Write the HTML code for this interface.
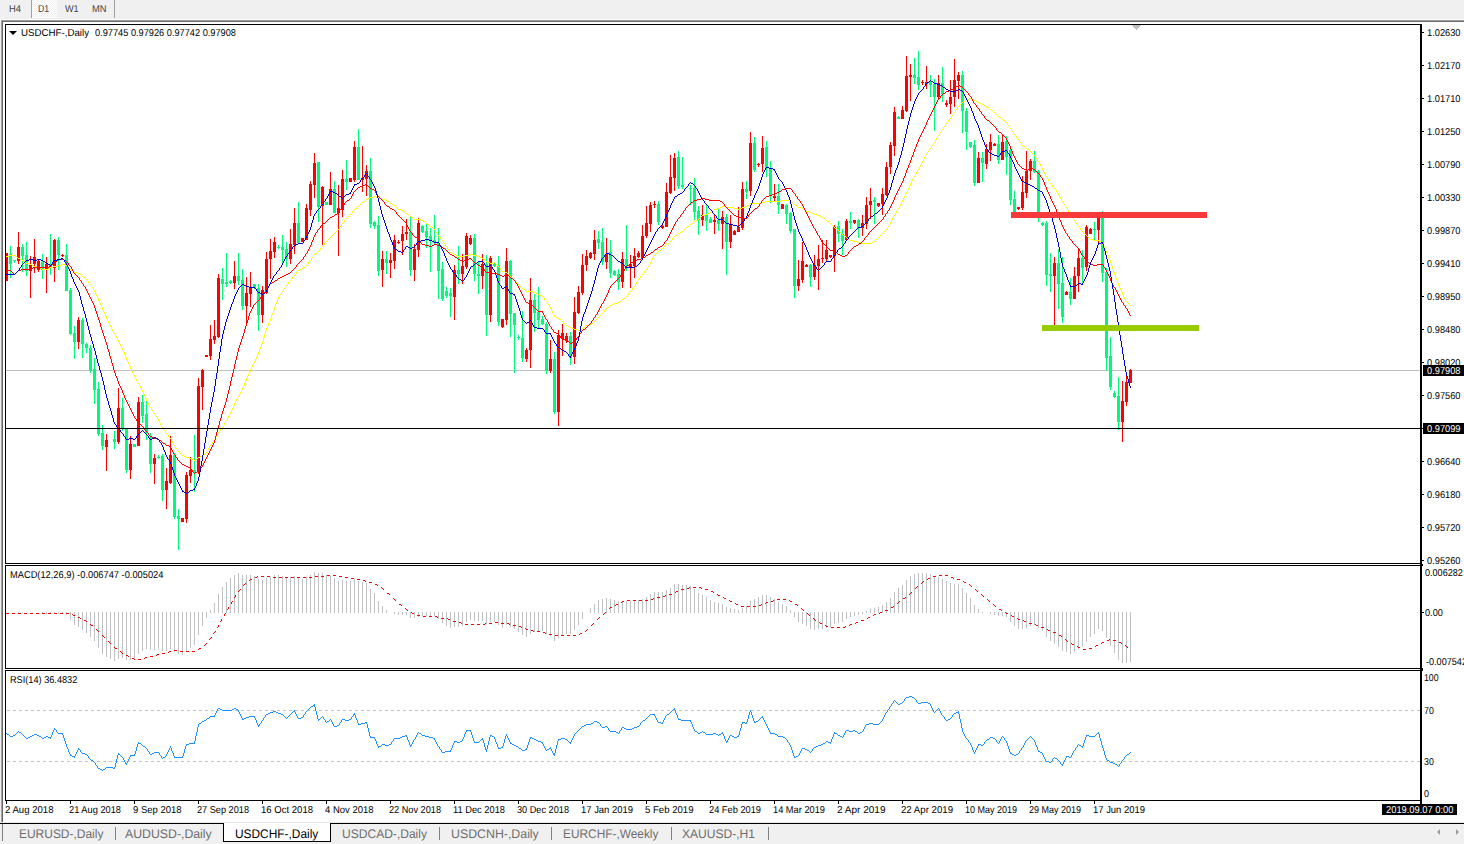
<!DOCTYPE html>
<html><head><meta charset="utf-8"><title>USDCHF-,Daily</title>
<style>
html,body{margin:0;padding:0;background:#fff;}
body{width:1464px;height:844px;position:relative;overflow:hidden;font-family:"Liberation Sans",sans-serif;}
.t{position:absolute;white-space:nowrap;color:#000;font-size:10px;line-height:12px;transform-origin:0 0;text-rendering:geometricPrecision;}
.tbt{color:#444;font-size:10px;}
.tab{font-size:12.5px;line-height:15px;color:#6e6e6e;}
.w{color:#fff;}
.bx{position:absolute;background:#000;}
.d{position:absolute;}
</style></head><body>

<div class="d" style="left:0px;top:0px;width:1464px;height:19px;background:#f0f0f0;"></div>
<div class="d" style="left:0px;top:19px;width:1464px;height:1px;background:#f8f8f8;"></div>
<div class="d" style="left:1px;top:20px;width:1463px;height:1px;background:#a0a0a0;"></div>
<div class="d" style="left:2px;top:21px;width:1462px;height:1px;background:#696969;"></div>
<div class="d" style="left:0px;top:20px;width:1px;height:804px;background:#f0f0f0;"></div>
<div class="d" style="left:1px;top:20px;width:1px;height:804px;background:#a0a0a0;"></div>
<div class="d" style="left:2px;top:21px;width:1px;height:803px;background:#696969;"></div>
<div class="d" style="left:32px;top:0px;width:25px;height:18px;background:#f8f8f8;background-image:conic-gradient(#fff 25%,#f0f0f0 0 50%,#fff 0 75%,#f0f0f0 0);background-size:2px 2px;"></div>
<div class="d" style="left:31px;top:0px;width:1px;height:18px;background:#a0a0a0;"></div>
<div class="d" style="left:114px;top:0px;width:1px;height:18px;background:#a0a0a0;"></div>
<div class="t tbt" id="t1" style="left:8.7px;top:4px;transform:scaleX(0.9377);">H4</div>
<div class="t tbt" id="t2" style="left:37.7px;top:4px;transform:scaleX(0.8752);">D1</div>
<div class="t tbt" id="t3" style="left:65px;top:4px;transform:scaleX(0.9133);">W1</div>
<div class="t tbt" id="t4" style="left:91.6px;top:4px;transform:scaleX(0.9317);">MN</div>
<svg width="1464" height="844" viewBox="0 0 1464 844" shape-rendering="crispEdges" style="position:absolute;left:0;top:0">
<rect x="6" y="370" width="1414" height="1" fill="#c0c0c0"/>
<polygon points="1131,25 1141,25 1136,30" fill="#c0c0c0"/>
<rect x="1422" y="32" width="2" height="1" fill="#000"/>
<rect x="1422" y="65" width="2" height="1" fill="#000"/>
<rect x="1422" y="98" width="2" height="1" fill="#000"/>
<rect x="1422" y="131" width="2" height="1" fill="#000"/>
<rect x="1422" y="164" width="2" height="1" fill="#000"/>
<rect x="1422" y="197" width="2" height="1" fill="#000"/>
<rect x="1422" y="230" width="2" height="1" fill="#000"/>
<rect x="1422" y="263" width="2" height="1" fill="#000"/>
<rect x="1422" y="296" width="2" height="1" fill="#000"/>
<rect x="1422" y="329" width="2" height="1" fill="#000"/>
<rect x="1422" y="362" width="2" height="1" fill="#000"/>
<rect x="1422" y="395" width="2" height="1" fill="#000"/>
<rect x="1422" y="428" width="2" height="1" fill="#000"/>
<rect x="1422" y="461" width="2" height="1" fill="#000"/>
<rect x="1422" y="494" width="2" height="1" fill="#000"/>
<rect x="1422" y="527" width="2" height="1" fill="#000"/>
<rect x="1422" y="560" width="2" height="1" fill="#000"/>
<rect x="1422" y="612" width="2" height="1" fill="#000"/>
<rect x="1422" y="564" width="1" height="1" fill="#000"/>
<rect x="1422" y="565" width="1" height="1" fill="#000"/>
<rect x="1422" y="668" width="1" height="1" fill="#000"/>
<rect x="1422" y="669" width="1" height="1" fill="#000"/>
<rect x="1422" y="670" width="1" height="1" fill="#000"/>
<rect x="6" y="801" width="1" height="3" fill="#000"/>
<rect x="70" y="801" width="1" height="3" fill="#000"/>
<rect x="134" y="801" width="1" height="3" fill="#000"/>
<rect x="198" y="801" width="1" height="3" fill="#000"/>
<rect x="262" y="801" width="1" height="3" fill="#000"/>
<rect x="326" y="801" width="1" height="3" fill="#000"/>
<rect x="390" y="801" width="1" height="3" fill="#000"/>
<rect x="454" y="801" width="1" height="3" fill="#000"/>
<rect x="518" y="801" width="1" height="3" fill="#000"/>
<rect x="582" y="801" width="1" height="3" fill="#000"/>
<rect x="646" y="801" width="1" height="3" fill="#000"/>
<rect x="710" y="801" width="1" height="3" fill="#000"/>
<rect x="774" y="801" width="1" height="3" fill="#000"/>
<rect x="838" y="801" width="1" height="3" fill="#000"/>
<rect x="902" y="801" width="1" height="3" fill="#000"/>
<rect x="966" y="801" width="1" height="3" fill="#000"/>
<rect x="1030" y="801" width="1" height="3" fill="#000"/>
<rect x="1094" y="801" width="1" height="3" fill="#000"/>
<line x1="7" y1="710.5" x2="1420" y2="710.5" stroke="#c0c0c0" stroke-width="1" stroke-dasharray="3,3"/>
<line x1="7" y1="761.5" x2="1420" y2="761.5" stroke="#c0c0c0" stroke-width="1" stroke-dasharray="3,3"/>
<rect x="6" y="253" width="1" height="28" fill="#ff0000"/>
<rect x="5" y="253" width="3" height="28" fill="#ff0000"/>
<rect x="10" y="246" width="1" height="32" fill="#00fa7a"/>
<rect x="9" y="254" width="3" height="10" fill="#00fa7a"/>
<rect x="14" y="260" width="1" height="3" fill="#00fa7a"/>
<rect x="13" y="260" width="3" height="1" fill="#00fa7a"/>
<rect x="18" y="232" width="1" height="32" fill="#ff0000"/>
<rect x="17" y="247" width="3" height="14" fill="#ff0000"/>
<rect x="22" y="244" width="1" height="28" fill="#00fa7a"/>
<rect x="21" y="247" width="3" height="9" fill="#00fa7a"/>
<rect x="26" y="242" width="1" height="34" fill="#00fa7a"/>
<rect x="25" y="255" width="3" height="16" fill="#00fa7a"/>
<rect x="30" y="256" width="1" height="42" fill="#ff0000"/>
<rect x="29" y="265" width="3" height="6" fill="#ff0000"/>
<rect x="34" y="239" width="1" height="34" fill="#ff0000"/>
<rect x="33" y="257" width="3" height="7" fill="#ff0000"/>
<rect x="38" y="260" width="1" height="12" fill="#ff0000"/>
<rect x="37" y="261" width="3" height="9" fill="#ff0000"/>
<rect x="42" y="254" width="1" height="25" fill="#00fa7a"/>
<rect x="41" y="262" width="3" height="8" fill="#00fa7a"/>
<rect x="46" y="257" width="1" height="36" fill="#ff0000"/>
<rect x="45" y="264" width="3" height="5" fill="#ff0000"/>
<rect x="50" y="234" width="1" height="41" fill="#00fa7a"/>
<rect x="49" y="265" width="3" height="3" fill="#00fa7a"/>
<rect x="54" y="239" width="1" height="43" fill="#ff0000"/>
<rect x="53" y="240" width="3" height="28" fill="#ff0000"/>
<rect x="58" y="237" width="1" height="33" fill="#00fa7a"/>
<rect x="57" y="240" width="3" height="15" fill="#00fa7a"/>
<rect x="62" y="254" width="1" height="3" fill="#ff0000"/>
<rect x="61" y="255" width="3" height="1" fill="#ff0000"/>
<rect x="66" y="244" width="1" height="47" fill="#00fa7a"/>
<rect x="65" y="255" width="3" height="36" fill="#00fa7a"/>
<rect x="70" y="288" width="1" height="47" fill="#00fa7a"/>
<rect x="69" y="290" width="3" height="44" fill="#00fa7a"/>
<rect x="74" y="326" width="1" height="33" fill="#00fa7a"/>
<rect x="73" y="333" width="3" height="9" fill="#00fa7a"/>
<rect x="78" y="317" width="1" height="32" fill="#ff0000"/>
<rect x="77" y="320" width="3" height="22" fill="#ff0000"/>
<rect x="82" y="318" width="1" height="40" fill="#00fa7a"/>
<rect x="81" y="320" width="3" height="24" fill="#00fa7a"/>
<rect x="86" y="343" width="1" height="10" fill="#00fa7a"/>
<rect x="85" y="344" width="3" height="4" fill="#00fa7a"/>
<rect x="90" y="345" width="1" height="28" fill="#00fa7a"/>
<rect x="89" y="348" width="3" height="23" fill="#00fa7a"/>
<rect x="94" y="358" width="1" height="46" fill="#00fa7a"/>
<rect x="93" y="369" width="3" height="21" fill="#00fa7a"/>
<rect x="98" y="382" width="1" height="54" fill="#00fa7a"/>
<rect x="97" y="389" width="3" height="45" fill="#00fa7a"/>
<rect x="102" y="425" width="1" height="25" fill="#00fa7a"/>
<rect x="101" y="433" width="3" height="13" fill="#00fa7a"/>
<rect x="106" y="434" width="1" height="37" fill="#ff0000"/>
<rect x="105" y="440" width="3" height="7" fill="#ff0000"/>
<rect x="114" y="431" width="1" height="18" fill="#00fa7a"/>
<rect x="113" y="439" width="3" height="3" fill="#00fa7a"/>
<rect x="118" y="388" width="1" height="56" fill="#ff0000"/>
<rect x="117" y="408" width="3" height="34" fill="#ff0000"/>
<rect x="122" y="398" width="1" height="33" fill="#00fa7a"/>
<rect x="121" y="408" width="3" height="21" fill="#00fa7a"/>
<rect x="126" y="428" width="1" height="45" fill="#00fa7a"/>
<rect x="125" y="429" width="3" height="41" fill="#00fa7a"/>
<rect x="130" y="436" width="1" height="43" fill="#ff0000"/>
<rect x="129" y="444" width="3" height="26" fill="#ff0000"/>
<rect x="134" y="444" width="1" height="3" fill="#00fa7a"/>
<rect x="133" y="444" width="3" height="3" fill="#00fa7a"/>
<rect x="138" y="397" width="1" height="49" fill="#ff0000"/>
<rect x="137" y="402" width="3" height="44" fill="#ff0000"/>
<rect x="142" y="395" width="1" height="28" fill="#00fa7a"/>
<rect x="141" y="402" width="3" height="14" fill="#00fa7a"/>
<rect x="146" y="401" width="1" height="39" fill="#00fa7a"/>
<rect x="145" y="414" width="3" height="19" fill="#00fa7a"/>
<rect x="150" y="433" width="1" height="40" fill="#00fa7a"/>
<rect x="149" y="437" width="3" height="27" fill="#00fa7a"/>
<rect x="154" y="454" width="1" height="30" fill="#ff0000"/>
<rect x="153" y="458" width="3" height="6" fill="#ff0000"/>
<rect x="158" y="455" width="1" height="4" fill="#00fa7a"/>
<rect x="157" y="457" width="3" height="1" fill="#00fa7a"/>
<rect x="162" y="454" width="1" height="47" fill="#00fa7a"/>
<rect x="161" y="456" width="3" height="34" fill="#00fa7a"/>
<rect x="166" y="468" width="1" height="41" fill="#ff0000"/>
<rect x="165" y="481" width="3" height="9" fill="#ff0000"/>
<rect x="170" y="436" width="1" height="48" fill="#ff0000"/>
<rect x="169" y="455" width="3" height="28" fill="#ff0000"/>
<rect x="174" y="453" width="1" height="66" fill="#00fa7a"/>
<rect x="173" y="455" width="3" height="62" fill="#00fa7a"/>
<rect x="178" y="509" width="1" height="41" fill="#00fa7a"/>
<rect x="177" y="516" width="3" height="3" fill="#00fa7a"/>
<rect x="182" y="518" width="1" height="4" fill="#ff0000"/>
<rect x="181" y="518" width="3" height="4" fill="#ff0000"/>
<rect x="186" y="472" width="1" height="51" fill="#ff0000"/>
<rect x="185" y="475" width="3" height="44" fill="#ff0000"/>
<rect x="190" y="457" width="1" height="26" fill="#ff0000"/>
<rect x="189" y="470" width="3" height="6" fill="#ff0000"/>
<rect x="194" y="435" width="1" height="57" fill="#00fa7a"/>
<rect x="193" y="470" width="3" height="2" fill="#00fa7a"/>
<rect x="198" y="378" width="1" height="96" fill="#ff0000"/>
<rect x="197" y="386" width="3" height="86" fill="#ff0000"/>
<rect x="202" y="369" width="1" height="41" fill="#ff0000"/>
<rect x="201" y="370" width="3" height="17" fill="#ff0000"/>
<rect x="206" y="355" width="1" height="2" fill="#ff0000"/>
<rect x="205" y="355" width="3" height="2" fill="#ff0000"/>
<rect x="210" y="325" width="1" height="35" fill="#ff0000"/>
<rect x="209" y="339" width="3" height="17" fill="#ff0000"/>
<rect x="214" y="320" width="1" height="24" fill="#ff0000"/>
<rect x="213" y="336" width="3" height="4" fill="#ff0000"/>
<rect x="218" y="274" width="1" height="64" fill="#ff0000"/>
<rect x="217" y="278" width="3" height="59" fill="#ff0000"/>
<rect x="222" y="268" width="1" height="32" fill="#00fa7a"/>
<rect x="221" y="279" width="3" height="5" fill="#00fa7a"/>
<rect x="226" y="253" width="1" height="34" fill="#00fa7a"/>
<rect x="225" y="282" width="3" height="2" fill="#00fa7a"/>
<rect x="230" y="280" width="1" height="4" fill="#00fa7a"/>
<rect x="229" y="281" width="3" height="2" fill="#00fa7a"/>
<rect x="234" y="261" width="1" height="28" fill="#ff0000"/>
<rect x="233" y="276" width="3" height="7" fill="#ff0000"/>
<rect x="238" y="253" width="1" height="32" fill="#00fa7a"/>
<rect x="237" y="276" width="3" height="5" fill="#00fa7a"/>
<rect x="242" y="269" width="1" height="41" fill="#00fa7a"/>
<rect x="241" y="280" width="3" height="26" fill="#00fa7a"/>
<rect x="246" y="277" width="1" height="47" fill="#ff0000"/>
<rect x="245" y="293" width="3" height="13" fill="#ff0000"/>
<rect x="250" y="272" width="1" height="35" fill="#ff0000"/>
<rect x="249" y="288" width="3" height="6" fill="#ff0000"/>
<rect x="254" y="284" width="1" height="5" fill="#00fa7a"/>
<rect x="253" y="284" width="3" height="4" fill="#00fa7a"/>
<rect x="258" y="284" width="1" height="47" fill="#00fa7a"/>
<rect x="257" y="288" width="3" height="27" fill="#00fa7a"/>
<rect x="262" y="286" width="1" height="37" fill="#ff0000"/>
<rect x="261" y="290" width="3" height="25" fill="#ff0000"/>
<rect x="266" y="252" width="1" height="42" fill="#ff0000"/>
<rect x="265" y="259" width="3" height="34" fill="#ff0000"/>
<rect x="270" y="239" width="1" height="40" fill="#ff0000"/>
<rect x="269" y="251" width="3" height="8" fill="#ff0000"/>
<rect x="274" y="237" width="1" height="21" fill="#ff0000"/>
<rect x="273" y="242" width="3" height="10" fill="#ff0000"/>
<rect x="278" y="245" width="1" height="4" fill="#00fa7a"/>
<rect x="277" y="247" width="3" height="1" fill="#00fa7a"/>
<rect x="282" y="235" width="1" height="28" fill="#00fa7a"/>
<rect x="281" y="247" width="3" height="3" fill="#00fa7a"/>
<rect x="286" y="242" width="1" height="25" fill="#00fa7a"/>
<rect x="285" y="249" width="3" height="10" fill="#00fa7a"/>
<rect x="290" y="229" width="1" height="35" fill="#ff0000"/>
<rect x="289" y="244" width="3" height="15" fill="#ff0000"/>
<rect x="294" y="208" width="1" height="46" fill="#ff0000"/>
<rect x="293" y="223" width="3" height="22" fill="#ff0000"/>
<rect x="298" y="202" width="1" height="42" fill="#00fa7a"/>
<rect x="297" y="223" width="3" height="20" fill="#00fa7a"/>
<rect x="302" y="238" width="1" height="4" fill="#ff0000"/>
<rect x="301" y="238" width="3" height="4" fill="#ff0000"/>
<rect x="306" y="204" width="1" height="36" fill="#ff0000"/>
<rect x="305" y="208" width="3" height="32" fill="#ff0000"/>
<rect x="310" y="181" width="1" height="35" fill="#ff0000"/>
<rect x="309" y="184" width="3" height="26" fill="#ff0000"/>
<rect x="314" y="153" width="1" height="45" fill="#ff0000"/>
<rect x="313" y="163" width="3" height="22" fill="#ff0000"/>
<rect x="318" y="162" width="1" height="60" fill="#00fa7a"/>
<rect x="317" y="162" width="3" height="45" fill="#00fa7a"/>
<rect x="322" y="186" width="1" height="59" fill="#ff0000"/>
<rect x="321" y="187" width="3" height="19" fill="#ff0000"/>
<rect x="326" y="202" width="1" height="3" fill="#00fa7a"/>
<rect x="325" y="202" width="3" height="3" fill="#00fa7a"/>
<rect x="330" y="172" width="1" height="33" fill="#ff0000"/>
<rect x="329" y="189" width="3" height="16" fill="#ff0000"/>
<rect x="334" y="181" width="1" height="32" fill="#00fa7a"/>
<rect x="333" y="189" width="3" height="24" fill="#00fa7a"/>
<rect x="338" y="185" width="1" height="71" fill="#ff0000"/>
<rect x="337" y="208" width="3" height="5" fill="#ff0000"/>
<rect x="342" y="170" width="1" height="47" fill="#ff0000"/>
<rect x="341" y="179" width="3" height="31" fill="#ff0000"/>
<rect x="346" y="160" width="1" height="30" fill="#00fa7a"/>
<rect x="345" y="179" width="3" height="3" fill="#00fa7a"/>
<rect x="350" y="178" width="1" height="4" fill="#ff0000"/>
<rect x="349" y="178" width="3" height="4" fill="#ff0000"/>
<rect x="354" y="141" width="1" height="41" fill="#ff0000"/>
<rect x="353" y="147" width="3" height="33" fill="#ff0000"/>
<rect x="358" y="129" width="1" height="51" fill="#00fa7a"/>
<rect x="357" y="147" width="3" height="33" fill="#00fa7a"/>
<rect x="362" y="146" width="1" height="46" fill="#ff0000"/>
<rect x="361" y="178" width="3" height="2" fill="#ff0000"/>
<rect x="366" y="165" width="1" height="31" fill="#ff0000"/>
<rect x="365" y="171" width="3" height="8" fill="#ff0000"/>
<rect x="370" y="158" width="1" height="70" fill="#00fa7a"/>
<rect x="369" y="171" width="3" height="53" fill="#00fa7a"/>
<rect x="374" y="221" width="1" height="8" fill="#00fa7a"/>
<rect x="373" y="222" width="3" height="4" fill="#00fa7a"/>
<rect x="378" y="216" width="1" height="60" fill="#00fa7a"/>
<rect x="377" y="225" width="3" height="46" fill="#00fa7a"/>
<rect x="382" y="251" width="1" height="36" fill="#ff0000"/>
<rect x="381" y="259" width="3" height="11" fill="#ff0000"/>
<rect x="386" y="251" width="1" height="23" fill="#00fa7a"/>
<rect x="385" y="259" width="3" height="4" fill="#00fa7a"/>
<rect x="390" y="253" width="1" height="25" fill="#ff0000"/>
<rect x="389" y="260" width="3" height="3" fill="#ff0000"/>
<rect x="394" y="235" width="1" height="34" fill="#ff0000"/>
<rect x="393" y="240" width="3" height="21" fill="#ff0000"/>
<rect x="398" y="240" width="1" height="4" fill="#ff0000"/>
<rect x="397" y="242" width="3" height="1" fill="#ff0000"/>
<rect x="402" y="226" width="1" height="29" fill="#ff0000"/>
<rect x="401" y="234" width="3" height="7" fill="#ff0000"/>
<rect x="406" y="219" width="1" height="21" fill="#ff0000"/>
<rect x="405" y="232" width="3" height="2" fill="#ff0000"/>
<rect x="410" y="217" width="1" height="59" fill="#00fa7a"/>
<rect x="409" y="232" width="3" height="38" fill="#00fa7a"/>
<rect x="414" y="244" width="1" height="37" fill="#ff0000"/>
<rect x="413" y="249" width="3" height="21" fill="#ff0000"/>
<rect x="418" y="218" width="1" height="39" fill="#ff0000"/>
<rect x="417" y="223" width="3" height="27" fill="#ff0000"/>
<rect x="422" y="225" width="1" height="8" fill="#00fa7a"/>
<rect x="421" y="226" width="3" height="6" fill="#00fa7a"/>
<rect x="426" y="224" width="1" height="24" fill="#00fa7a"/>
<rect x="425" y="231" width="3" height="6" fill="#00fa7a"/>
<rect x="430" y="228" width="1" height="44" fill="#00fa7a"/>
<rect x="429" y="236" width="3" height="5" fill="#00fa7a"/>
<rect x="434" y="215" width="1" height="29" fill="#00fa7a"/>
<rect x="433" y="240" width="3" height="3" fill="#00fa7a"/>
<rect x="438" y="228" width="1" height="71" fill="#00fa7a"/>
<rect x="437" y="243" width="3" height="28" fill="#00fa7a"/>
<rect x="442" y="262" width="1" height="39" fill="#00fa7a"/>
<rect x="441" y="269" width="3" height="30" fill="#00fa7a"/>
<rect x="446" y="287" width="1" height="11" fill="#00fa7a"/>
<rect x="445" y="291" width="3" height="5" fill="#00fa7a"/>
<rect x="450" y="288" width="1" height="29" fill="#00fa7a"/>
<rect x="449" y="293" width="3" height="3" fill="#00fa7a"/>
<rect x="454" y="265" width="1" height="55" fill="#ff0000"/>
<rect x="453" y="270" width="3" height="27" fill="#ff0000"/>
<rect x="458" y="246" width="1" height="38" fill="#00fa7a"/>
<rect x="457" y="270" width="3" height="4" fill="#00fa7a"/>
<rect x="462" y="254" width="1" height="30" fill="#ff0000"/>
<rect x="461" y="266" width="3" height="8" fill="#ff0000"/>
<rect x="466" y="233" width="1" height="36" fill="#ff0000"/>
<rect x="465" y="236" width="3" height="31" fill="#ff0000"/>
<rect x="470" y="235" width="1" height="10" fill="#ff0000"/>
<rect x="469" y="238" width="3" height="6" fill="#ff0000"/>
<rect x="474" y="234" width="1" height="47" fill="#00fa7a"/>
<rect x="473" y="238" width="3" height="36" fill="#00fa7a"/>
<rect x="478" y="262" width="1" height="32" fill="#00fa7a"/>
<rect x="477" y="274" width="3" height="2" fill="#00fa7a"/>
<rect x="482" y="254" width="1" height="35" fill="#ff0000"/>
<rect x="481" y="264" width="3" height="12" fill="#ff0000"/>
<rect x="486" y="255" width="1" height="81" fill="#00fa7a"/>
<rect x="485" y="264" width="3" height="51" fill="#00fa7a"/>
<rect x="490" y="256" width="1" height="66" fill="#ff0000"/>
<rect x="489" y="258" width="3" height="57" fill="#ff0000"/>
<rect x="494" y="263" width="1" height="4" fill="#00fa7a"/>
<rect x="493" y="264" width="3" height="2" fill="#00fa7a"/>
<rect x="498" y="256" width="1" height="70" fill="#00fa7a"/>
<rect x="497" y="265" width="3" height="57" fill="#00fa7a"/>
<rect x="502" y="319" width="1" height="9" fill="#ff0000"/>
<rect x="501" y="319" width="3" height="8" fill="#ff0000"/>
<rect x="506" y="248" width="1" height="77" fill="#ff0000"/>
<rect x="505" y="261" width="3" height="59" fill="#ff0000"/>
<rect x="510" y="260" width="1" height="77" fill="#00fa7a"/>
<rect x="509" y="261" width="3" height="53" fill="#00fa7a"/>
<rect x="514" y="313" width="1" height="60" fill="#00fa7a"/>
<rect x="513" y="313" width="3" height="12" fill="#00fa7a"/>
<rect x="518" y="335" width="1" height="5" fill="#00fa7a"/>
<rect x="517" y="337" width="3" height="1" fill="#00fa7a"/>
<rect x="522" y="311" width="1" height="51" fill="#00fa7a"/>
<rect x="521" y="338" width="3" height="20" fill="#00fa7a"/>
<rect x="526" y="348" width="1" height="14" fill="#ff0000"/>
<rect x="525" y="350" width="3" height="9" fill="#ff0000"/>
<rect x="530" y="278" width="1" height="90" fill="#ff0000"/>
<rect x="529" y="300" width="3" height="50" fill="#ff0000"/>
<rect x="534" y="294" width="1" height="38" fill="#00fa7a"/>
<rect x="533" y="300" width="3" height="13" fill="#00fa7a"/>
<rect x="538" y="287" width="1" height="41" fill="#00fa7a"/>
<rect x="537" y="312" width="3" height="8" fill="#00fa7a"/>
<rect x="542" y="316" width="1" height="9" fill="#00fa7a"/>
<rect x="541" y="319" width="3" height="5" fill="#00fa7a"/>
<rect x="546" y="322" width="1" height="52" fill="#00fa7a"/>
<rect x="545" y="324" width="3" height="47" fill="#00fa7a"/>
<rect x="550" y="340" width="1" height="33" fill="#ff0000"/>
<rect x="549" y="359" width="3" height="12" fill="#ff0000"/>
<rect x="554" y="352" width="1" height="62" fill="#00fa7a"/>
<rect x="553" y="359" width="3" height="53" fill="#00fa7a"/>
<rect x="558" y="330" width="1" height="96" fill="#ff0000"/>
<rect x="557" y="335" width="3" height="77" fill="#ff0000"/>
<rect x="562" y="324" width="1" height="32" fill="#ff0000"/>
<rect x="561" y="333" width="3" height="6" fill="#ff0000"/>
<rect x="566" y="333" width="1" height="10" fill="#ff0000"/>
<rect x="565" y="336" width="3" height="5" fill="#ff0000"/>
<rect x="570" y="332" width="1" height="33" fill="#00fa7a"/>
<rect x="569" y="336" width="3" height="22" fill="#00fa7a"/>
<rect x="574" y="297" width="1" height="67" fill="#ff0000"/>
<rect x="573" y="312" width="3" height="45" fill="#ff0000"/>
<rect x="578" y="286" width="1" height="28" fill="#ff0000"/>
<rect x="577" y="292" width="3" height="21" fill="#ff0000"/>
<rect x="582" y="254" width="1" height="41" fill="#ff0000"/>
<rect x="581" y="265" width="3" height="28" fill="#ff0000"/>
<rect x="586" y="250" width="1" height="21" fill="#ff0000"/>
<rect x="585" y="256" width="3" height="9" fill="#ff0000"/>
<rect x="590" y="252" width="1" height="7" fill="#ff0000"/>
<rect x="589" y="253" width="3" height="5" fill="#ff0000"/>
<rect x="594" y="230" width="1" height="30" fill="#ff0000"/>
<rect x="593" y="240" width="3" height="14" fill="#ff0000"/>
<rect x="598" y="231" width="1" height="18" fill="#00fa7a"/>
<rect x="597" y="239" width="3" height="4" fill="#00fa7a"/>
<rect x="602" y="228" width="1" height="37" fill="#00fa7a"/>
<rect x="601" y="242" width="3" height="20" fill="#00fa7a"/>
<rect x="606" y="238" width="1" height="31" fill="#ff0000"/>
<rect x="605" y="254" width="3" height="8" fill="#ff0000"/>
<rect x="610" y="240" width="1" height="38" fill="#00fa7a"/>
<rect x="609" y="252" width="3" height="21" fill="#00fa7a"/>
<rect x="614" y="270" width="1" height="6" fill="#00fa7a"/>
<rect x="613" y="271" width="3" height="4" fill="#00fa7a"/>
<rect x="618" y="269" width="1" height="21" fill="#00fa7a"/>
<rect x="617" y="274" width="3" height="8" fill="#00fa7a"/>
<rect x="622" y="252" width="1" height="36" fill="#ff0000"/>
<rect x="621" y="259" width="3" height="23" fill="#ff0000"/>
<rect x="626" y="225" width="1" height="46" fill="#00fa7a"/>
<rect x="625" y="259" width="3" height="6" fill="#00fa7a"/>
<rect x="630" y="255" width="1" height="33" fill="#ff0000"/>
<rect x="629" y="264" width="3" height="3" fill="#ff0000"/>
<rect x="634" y="248" width="1" height="30" fill="#ff0000"/>
<rect x="633" y="256" width="3" height="10" fill="#ff0000"/>
<rect x="638" y="251" width="1" height="7" fill="#ff0000"/>
<rect x="637" y="253" width="3" height="4" fill="#ff0000"/>
<rect x="642" y="225" width="1" height="34" fill="#ff0000"/>
<rect x="641" y="236" width="3" height="22" fill="#ff0000"/>
<rect x="646" y="206" width="1" height="32" fill="#ff0000"/>
<rect x="645" y="223" width="3" height="13" fill="#ff0000"/>
<rect x="650" y="202" width="1" height="30" fill="#ff0000"/>
<rect x="649" y="205" width="3" height="19" fill="#ff0000"/>
<rect x="654" y="201" width="1" height="7" fill="#ff0000"/>
<rect x="653" y="204" width="3" height="1" fill="#ff0000"/>
<rect x="658" y="201" width="1" height="24" fill="#00fa7a"/>
<rect x="657" y="204" width="3" height="18" fill="#00fa7a"/>
<rect x="662" y="225" width="1" height="4" fill="#ff0000"/>
<rect x="661" y="226" width="3" height="2" fill="#ff0000"/>
<rect x="666" y="183" width="1" height="44" fill="#ff0000"/>
<rect x="665" y="192" width="3" height="35" fill="#ff0000"/>
<rect x="670" y="155" width="1" height="39" fill="#ff0000"/>
<rect x="669" y="177" width="3" height="16" fill="#ff0000"/>
<rect x="674" y="153" width="1" height="38" fill="#ff0000"/>
<rect x="673" y="158" width="3" height="20" fill="#ff0000"/>
<rect x="678" y="151" width="1" height="38" fill="#00fa7a"/>
<rect x="677" y="157" width="3" height="29" fill="#00fa7a"/>
<rect x="682" y="157" width="1" height="32" fill="#00fa7a"/>
<rect x="681" y="185" width="3" height="2" fill="#00fa7a"/>
<rect x="690" y="185" width="1" height="20" fill="#00fa7a"/>
<rect x="689" y="188" width="3" height="1" fill="#00fa7a"/>
<rect x="694" y="178" width="1" height="42" fill="#00fa7a"/>
<rect x="693" y="188" width="3" height="24" fill="#00fa7a"/>
<rect x="698" y="206" width="1" height="29" fill="#00fa7a"/>
<rect x="697" y="211" width="3" height="9" fill="#00fa7a"/>
<rect x="702" y="205" width="1" height="21" fill="#ff0000"/>
<rect x="701" y="215" width="3" height="5" fill="#ff0000"/>
<rect x="706" y="205" width="1" height="26" fill="#00fa7a"/>
<rect x="705" y="215" width="3" height="6" fill="#00fa7a"/>
<rect x="710" y="217" width="1" height="6" fill="#00fa7a"/>
<rect x="709" y="219" width="3" height="4" fill="#00fa7a"/>
<rect x="714" y="214" width="1" height="20" fill="#ff0000"/>
<rect x="713" y="220" width="3" height="2" fill="#ff0000"/>
<rect x="718" y="209" width="1" height="22" fill="#00fa7a"/>
<rect x="717" y="220" width="3" height="4" fill="#00fa7a"/>
<rect x="722" y="211" width="1" height="38" fill="#ff0000"/>
<rect x="721" y="217" width="3" height="7" fill="#ff0000"/>
<rect x="726" y="214" width="1" height="61" fill="#00fa7a"/>
<rect x="725" y="217" width="3" height="25" fill="#00fa7a"/>
<rect x="730" y="215" width="1" height="33" fill="#ff0000"/>
<rect x="729" y="225" width="3" height="17" fill="#ff0000"/>
<rect x="734" y="230" width="1" height="5" fill="#ff0000"/>
<rect x="733" y="231" width="3" height="4" fill="#ff0000"/>
<rect x="738" y="207" width="1" height="25" fill="#ff0000"/>
<rect x="737" y="227" width="3" height="5" fill="#ff0000"/>
<rect x="742" y="182" width="1" height="48" fill="#ff0000"/>
<rect x="741" y="189" width="3" height="39" fill="#ff0000"/>
<rect x="746" y="181" width="1" height="18" fill="#00fa7a"/>
<rect x="745" y="189" width="3" height="3" fill="#00fa7a"/>
<rect x="750" y="132" width="1" height="64" fill="#ff0000"/>
<rect x="749" y="143" width="3" height="48" fill="#ff0000"/>
<rect x="754" y="137" width="1" height="35" fill="#00fa7a"/>
<rect x="753" y="143" width="3" height="27" fill="#00fa7a"/>
<rect x="758" y="163" width="1" height="4" fill="#ff0000"/>
<rect x="757" y="164" width="3" height="1" fill="#ff0000"/>
<rect x="762" y="136" width="1" height="36" fill="#ff0000"/>
<rect x="761" y="148" width="3" height="16" fill="#ff0000"/>
<rect x="766" y="141" width="1" height="36" fill="#00fa7a"/>
<rect x="765" y="147" width="3" height="21" fill="#00fa7a"/>
<rect x="770" y="161" width="1" height="42" fill="#00fa7a"/>
<rect x="769" y="168" width="3" height="28" fill="#00fa7a"/>
<rect x="774" y="184" width="1" height="17" fill="#ff0000"/>
<rect x="773" y="196" width="3" height="2" fill="#ff0000"/>
<rect x="778" y="184" width="1" height="30" fill="#00fa7a"/>
<rect x="777" y="196" width="3" height="9" fill="#00fa7a"/>
<rect x="782" y="204" width="1" height="5" fill="#ff0000"/>
<rect x="781" y="204" width="3" height="5" fill="#ff0000"/>
<rect x="786" y="204" width="1" height="20" fill="#00fa7a"/>
<rect x="785" y="205" width="3" height="9" fill="#00fa7a"/>
<rect x="790" y="212" width="1" height="21" fill="#00fa7a"/>
<rect x="789" y="213" width="3" height="18" fill="#00fa7a"/>
<rect x="794" y="229" width="1" height="69" fill="#00fa7a"/>
<rect x="793" y="229" width="3" height="57" fill="#00fa7a"/>
<rect x="798" y="260" width="1" height="31" fill="#ff0000"/>
<rect x="797" y="279" width="3" height="7" fill="#ff0000"/>
<rect x="802" y="242" width="1" height="41" fill="#ff0000"/>
<rect x="801" y="261" width="3" height="19" fill="#ff0000"/>
<rect x="806" y="264" width="1" height="3" fill="#ff0000"/>
<rect x="805" y="265" width="3" height="2" fill="#ff0000"/>
<rect x="810" y="264" width="1" height="23" fill="#00fa7a"/>
<rect x="809" y="265" width="3" height="12" fill="#00fa7a"/>
<rect x="814" y="255" width="1" height="25" fill="#ff0000"/>
<rect x="813" y="265" width="3" height="12" fill="#ff0000"/>
<rect x="818" y="245" width="1" height="45" fill="#ff0000"/>
<rect x="817" y="259" width="3" height="7" fill="#ff0000"/>
<rect x="822" y="240" width="1" height="23" fill="#ff0000"/>
<rect x="821" y="258" width="3" height="1" fill="#ff0000"/>
<rect x="826" y="240" width="1" height="22" fill="#ff0000"/>
<rect x="825" y="250" width="3" height="9" fill="#ff0000"/>
<rect x="830" y="255" width="1" height="3" fill="#ff0000"/>
<rect x="829" y="255" width="3" height="2" fill="#ff0000"/>
<rect x="834" y="225" width="1" height="47" fill="#ff0000"/>
<rect x="833" y="227" width="3" height="29" fill="#ff0000"/>
<rect x="838" y="221" width="1" height="21" fill="#00fa7a"/>
<rect x="837" y="226" width="3" height="8" fill="#00fa7a"/>
<rect x="842" y="229" width="1" height="26" fill="#00fa7a"/>
<rect x="841" y="234" width="3" height="7" fill="#00fa7a"/>
<rect x="846" y="219" width="1" height="22" fill="#ff0000"/>
<rect x="845" y="221" width="3" height="19" fill="#ff0000"/>
<rect x="850" y="212" width="1" height="17" fill="#00fa7a"/>
<rect x="849" y="221" width="3" height="2" fill="#00fa7a"/>
<rect x="854" y="220" width="1" height="4" fill="#ff0000"/>
<rect x="853" y="220" width="3" height="3" fill="#ff0000"/>
<rect x="858" y="219" width="1" height="19" fill="#00fa7a"/>
<rect x="857" y="220" width="3" height="8" fill="#00fa7a"/>
<rect x="862" y="215" width="1" height="21" fill="#ff0000"/>
<rect x="861" y="223" width="3" height="5" fill="#ff0000"/>
<rect x="866" y="197" width="1" height="32" fill="#ff0000"/>
<rect x="865" y="205" width="3" height="19" fill="#ff0000"/>
<rect x="870" y="188" width="1" height="31" fill="#ff0000"/>
<rect x="869" y="201" width="3" height="4" fill="#ff0000"/>
<rect x="874" y="197" width="1" height="27" fill="#00fa7a"/>
<rect x="873" y="200" width="3" height="2" fill="#00fa7a"/>
<rect x="878" y="203" width="1" height="4" fill="#ff0000"/>
<rect x="877" y="203" width="3" height="3" fill="#ff0000"/>
<rect x="882" y="188" width="1" height="27" fill="#ff0000"/>
<rect x="881" y="194" width="3" height="10" fill="#ff0000"/>
<rect x="886" y="162" width="1" height="34" fill="#ff0000"/>
<rect x="885" y="167" width="3" height="28" fill="#ff0000"/>
<rect x="890" y="142" width="1" height="32" fill="#ff0000"/>
<rect x="889" y="145" width="3" height="22" fill="#ff0000"/>
<rect x="894" y="107" width="1" height="49" fill="#ff0000"/>
<rect x="893" y="112" width="3" height="34" fill="#ff0000"/>
<rect x="898" y="116" width="1" height="3" fill="#00fa7a"/>
<rect x="897" y="117" width="3" height="2" fill="#00fa7a"/>
<rect x="902" y="106" width="1" height="13" fill="#ff0000"/>
<rect x="901" y="110" width="3" height="9" fill="#ff0000"/>
<rect x="906" y="56" width="1" height="56" fill="#ff0000"/>
<rect x="905" y="76" width="3" height="35" fill="#ff0000"/>
<rect x="910" y="64" width="1" height="37" fill="#ff0000"/>
<rect x="909" y="75" width="3" height="2" fill="#ff0000"/>
<rect x="914" y="58" width="1" height="26" fill="#00fa7a"/>
<rect x="913" y="75" width="3" height="3" fill="#00fa7a"/>
<rect x="918" y="51" width="1" height="39" fill="#00fa7a"/>
<rect x="917" y="77" width="3" height="8" fill="#00fa7a"/>
<rect x="922" y="80" width="1" height="5" fill="#ff0000"/>
<rect x="921" y="82" width="3" height="1" fill="#ff0000"/>
<rect x="926" y="66" width="1" height="23" fill="#ff0000"/>
<rect x="925" y="82" width="3" height="2" fill="#ff0000"/>
<rect x="930" y="75" width="1" height="22" fill="#00fa7a"/>
<rect x="929" y="82" width="3" height="3" fill="#00fa7a"/>
<rect x="934" y="79" width="1" height="52" fill="#00fa7a"/>
<rect x="933" y="84" width="3" height="13" fill="#00fa7a"/>
<rect x="938" y="75" width="1" height="24" fill="#ff0000"/>
<rect x="937" y="83" width="3" height="14" fill="#ff0000"/>
<rect x="942" y="67" width="1" height="35" fill="#00fa7a"/>
<rect x="941" y="83" width="3" height="11" fill="#00fa7a"/>
<rect x="946" y="100" width="1" height="7" fill="#ff0000"/>
<rect x="945" y="103" width="3" height="2" fill="#ff0000"/>
<rect x="950" y="80" width="1" height="34" fill="#ff0000"/>
<rect x="949" y="97" width="3" height="7" fill="#ff0000"/>
<rect x="954" y="59" width="1" height="48" fill="#ff0000"/>
<rect x="953" y="80" width="3" height="17" fill="#ff0000"/>
<rect x="958" y="72" width="1" height="27" fill="#ff0000"/>
<rect x="957" y="75" width="3" height="6" fill="#ff0000"/>
<rect x="962" y="71" width="1" height="62" fill="#00fa7a"/>
<rect x="961" y="75" width="3" height="36" fill="#00fa7a"/>
<rect x="966" y="108" width="1" height="42" fill="#00fa7a"/>
<rect x="965" y="111" width="3" height="21" fill="#00fa7a"/>
<rect x="970" y="142" width="1" height="6" fill="#00fa7a"/>
<rect x="969" y="142" width="3" height="5" fill="#00fa7a"/>
<rect x="974" y="140" width="1" height="46" fill="#00fa7a"/>
<rect x="973" y="145" width="3" height="38" fill="#00fa7a"/>
<rect x="978" y="152" width="1" height="31" fill="#ff0000"/>
<rect x="977" y="158" width="3" height="25" fill="#ff0000"/>
<rect x="982" y="152" width="1" height="30" fill="#00fa7a"/>
<rect x="981" y="158" width="3" height="5" fill="#00fa7a"/>
<rect x="986" y="144" width="1" height="25" fill="#ff0000"/>
<rect x="985" y="149" width="3" height="15" fill="#ff0000"/>
<rect x="990" y="134" width="1" height="27" fill="#ff0000"/>
<rect x="989" y="142" width="3" height="8" fill="#ff0000"/>
<rect x="994" y="143" width="1" height="3" fill="#ff0000"/>
<rect x="993" y="144" width="3" height="2" fill="#ff0000"/>
<rect x="998" y="135" width="1" height="29" fill="#00fa7a"/>
<rect x="997" y="144" width="3" height="16" fill="#00fa7a"/>
<rect x="1002" y="134" width="1" height="26" fill="#ff0000"/>
<rect x="1001" y="142" width="3" height="18" fill="#ff0000"/>
<rect x="1006" y="136" width="1" height="39" fill="#00fa7a"/>
<rect x="1005" y="141" width="3" height="16" fill="#00fa7a"/>
<rect x="1010" y="149" width="1" height="56" fill="#00fa7a"/>
<rect x="1009" y="150" width="3" height="50" fill="#00fa7a"/>
<rect x="1014" y="191" width="1" height="23" fill="#00fa7a"/>
<rect x="1013" y="199" width="3" height="14" fill="#00fa7a"/>
<rect x="1018" y="207" width="1" height="3" fill="#ff0000"/>
<rect x="1017" y="207" width="3" height="2" fill="#ff0000"/>
<rect x="1022" y="176" width="1" height="34" fill="#ff0000"/>
<rect x="1021" y="192" width="3" height="16" fill="#ff0000"/>
<rect x="1026" y="151" width="1" height="47" fill="#ff0000"/>
<rect x="1025" y="171" width="3" height="22" fill="#ff0000"/>
<rect x="1030" y="159" width="1" height="21" fill="#ff0000"/>
<rect x="1029" y="161" width="3" height="10" fill="#ff0000"/>
<rect x="1034" y="151" width="1" height="22" fill="#00fa7a"/>
<rect x="1033" y="161" width="3" height="11" fill="#00fa7a"/>
<rect x="1038" y="170" width="1" height="52" fill="#00fa7a"/>
<rect x="1037" y="171" width="3" height="47" fill="#00fa7a"/>
<rect x="1042" y="222" width="1" height="4" fill="#00fa7a"/>
<rect x="1041" y="223" width="3" height="2" fill="#00fa7a"/>
<rect x="1046" y="221" width="1" height="65" fill="#00fa7a"/>
<rect x="1045" y="223" width="3" height="52" fill="#00fa7a"/>
<rect x="1050" y="253" width="1" height="39" fill="#00fa7a"/>
<rect x="1049" y="274" width="3" height="2" fill="#00fa7a"/>
<rect x="1054" y="257" width="1" height="68" fill="#ff0000"/>
<rect x="1053" y="263" width="3" height="13" fill="#ff0000"/>
<rect x="1058" y="249" width="1" height="60" fill="#00fa7a"/>
<rect x="1057" y="263" width="3" height="21" fill="#00fa7a"/>
<rect x="1062" y="257" width="1" height="66" fill="#00fa7a"/>
<rect x="1061" y="283" width="3" height="34" fill="#00fa7a"/>
<rect x="1066" y="291" width="1" height="4" fill="#ff0000"/>
<rect x="1065" y="292" width="3" height="3" fill="#ff0000"/>
<rect x="1070" y="278" width="1" height="27" fill="#00fa7a"/>
<rect x="1069" y="292" width="3" height="7" fill="#00fa7a"/>
<rect x="1074" y="267" width="1" height="32" fill="#ff0000"/>
<rect x="1073" y="276" width="3" height="23" fill="#ff0000"/>
<rect x="1078" y="249" width="1" height="43" fill="#ff0000"/>
<rect x="1077" y="258" width="3" height="18" fill="#ff0000"/>
<rect x="1082" y="250" width="1" height="34" fill="#00fa7a"/>
<rect x="1081" y="258" width="3" height="10" fill="#00fa7a"/>
<rect x="1086" y="225" width="1" height="46" fill="#ff0000"/>
<rect x="1085" y="227" width="3" height="40" fill="#ff0000"/>
<rect x="1090" y="228" width="1" height="6" fill="#ff0000"/>
<rect x="1089" y="229" width="3" height="5" fill="#ff0000"/>
<rect x="1094" y="222" width="1" height="19" fill="#00fa7a"/>
<rect x="1093" y="229" width="3" height="1" fill="#00fa7a"/>
<rect x="1098" y="212" width="1" height="31" fill="#ff0000"/>
<rect x="1097" y="214" width="3" height="16" fill="#ff0000"/>
<rect x="1102" y="211" width="1" height="71" fill="#00fa7a"/>
<rect x="1101" y="214" width="3" height="59" fill="#00fa7a"/>
<rect x="1106" y="268" width="1" height="103" fill="#00fa7a"/>
<rect x="1105" y="272" width="3" height="86" fill="#00fa7a"/>
<rect x="1110" y="337" width="1" height="53" fill="#00fa7a"/>
<rect x="1109" y="356" width="3" height="31" fill="#00fa7a"/>
<rect x="1114" y="391" width="1" height="7" fill="#00fa7a"/>
<rect x="1113" y="393" width="3" height="4" fill="#00fa7a"/>
<rect x="1118" y="377" width="1" height="53" fill="#00fa7a"/>
<rect x="1117" y="396" width="3" height="26" fill="#00fa7a"/>
<rect x="1122" y="381" width="1" height="61" fill="#ff0000"/>
<rect x="1121" y="401" width="3" height="21" fill="#ff0000"/>
<rect x="1126" y="376" width="1" height="30" fill="#ff0000"/>
<rect x="1125" y="382" width="3" height="20" fill="#ff0000"/>
<rect x="1130" y="369" width="1" height="14" fill="#ff0000"/>
<rect x="1129" y="370" width="3" height="13" fill="#ff0000"/>
<path d="M6 256.5h3M9 255.5h6M15 256.5h2M17 257.5h1M18 258.5h2M20 259.5h2M22 260.5h1M23 261.5h2M25 262.5h1M26 263.5h3M29 264.5h3M32 265.5h2M34 266.5h3M37 267.5h3M40 268.5h2M42 269.5h6M48 268.5h2M50 267.5h3M53 266.5h4M57 265.5h4M61 264.5h4M65 265.5h2M67 266.5h1M68 267.5h1M69 268.5h1M70 269.5h1M71 270.5h2M73 271.5h1M74 272.5h3M77 273.5h2M79 274.5h2M81 275.5h1M82 276.5h1M83 277.5h2M85 278.5h1M86 279.5h1M87 280.5h1M88.5 281v2M89 283.5h1M90 284.5h1M91.5 285v2M92 287.5h1M93.5 288v2M94.5 290v2M95.5 292v2M96.5 294v2M97.5 296v2M98.5 298v3M99.5 301v2M100.5 303v2M101.5 305v2M102.5 307v3M103.5 310v2M104.5 312v2M105.5 314v2M106.5 316v3M107.5 319v2M108.5 321v2M109.5 323v2M110.5 325v2M111.5 327v2M112.5 329v2M113.5 331v2M114 333.5h1M115.5 334v2M116.5 336v2M117.5 338v2M118.5 340v2M119.5 342v2M120.5 344v2M121.5 346v2M122.5 348v2M123.5 350v2M124.5 352v3M125.5 355v2M126.5 357v3M127.5 360v2M128.5 362v2M129.5 364v2M130.5 366v3M131.5 369v2M132.5 371v2M133.5 373v2M134.5 375v2M135.5 377v2M136.5 379v2M137.5 381v2M138 383.5h1M139.5 384v2M140.5 386v2M141.5 388v2M142.5 390v2M143.5 392v2M144.5 394v2M145.5 396v2M146.5 398v3M147.5 401v2M148.5 403v2M149.5 405v2M150 407.5h1M151.5 408v2M152 410.5h1M153.5 411v2M154 413.5h1M155.5 414v2M156 416.5h1M157.5 417v2M158.5 419v2M159.5 421v2M160.5 423v2M161.5 425v2M162 427.5h1M163.5 428v2M164 430.5h1M165.5 431v2M166 433.5h1M167 434.5h1M168.5 435v2M169 437.5h1M170 438.5h1M171.5 439v2M172.5 441v2M173.5 443v2M174 445.5h1M175.5 446v2M176 448.5h1M177.5 449v2M178 451.5h1M179 452.5h1M180 453.5h1M181 454.5h1M182 455.5h2M184 456.5h2M186 457.5h3M189 458.5h3M192 459.5h2M194 460.5h1M195 459.5h2M197 458.5h1M198 457.5h2M200 456.5h2M202 455.5h1M203 454.5h2M205 453.5h1M206 452.5h1M207.5 450v2M208.5 448v2M209.5 446v2M210 445.5h1M211 444.5h1M212.5 442v2M213 441.5h1M214.5 439v2M215.5 437v2M216.5 435v2M217.5 433v2M218 432.5h1M219 431.5h1M220.5 429v2M221 428.5h1M222 427.5h1M223.5 425v2M224.5 423v2M225.5 421v2M226 420.5h1M227.5 418v2M228.5 416v2M229.5 414v2M230.5 412v2M231.5 410v2M232.5 408v2M233.5 406v2M234.5 403v3M235.5 401v2M236.5 399v2M237.5 397v2M238 396.5h1M239.5 394v2M240.5 392v2M241.5 390v2M242.5 388v2M243.5 386v2M244.5 383v3M245.5 381v2M246.5 378v3M247.5 376v2M248.5 374v2M249.5 372v2M250.5 369v3M251.5 367v2M252.5 365v2M253.5 363v2M254.5 361v2M255.5 359v2M256.5 357v2M257.5 355v2M258.5 352v3M259.5 349v3M260.5 347v2M261.5 344v3M262.5 341v3M263.5 338v3M264.5 334v4M265.5 331v3M266.5 328v3M267.5 326v2M268.5 323v3M269.5 321v2M270.5 318v3M271.5 315v3M272.5 313v2M273.5 310v3M274.5 307v3M275.5 304v3M276.5 302v2M277.5 299v3M278.5 297v2M279.5 295v2M280 294.5h1M281.5 292v2M282 291.5h1M283.5 289v2M284 288.5h1M285.5 286v2M286 285.5h1M287 284.5h1M288.5 282v2M289 281.5h1M290 280.5h1M291 279.5h1M292.5 277v2M293 276.5h1M294 275.5h1M295 274.5h1M296.5 272v2M297 271.5h1M298 270.5h2M300 269.5h2M302 268.5h1M303 267.5h2M305 266.5h1M306 265.5h1M307 264.5h1M308.5 262v2M309 261.5h1M310 260.5h1M311.5 258v2M312 257.5h1M313.5 255v2M314 254.5h1M315 253.5h2M317 252.5h1M318 251.5h1M319 250.5h1M320.5 248v2M321 247.5h1M322 246.5h1M323 245.5h1M324.5 243v2M325 242.5h1M326 241.5h1M327 240.5h1M328 239.5h1M329 238.5h1M330 237.5h1M331 236.5h1M332 235.5h1M333 234.5h1M334 233.5h1M335 232.5h1M336 231.5h1M337 230.5h1M338 229.5h1M339.5 227v2M340 226.5h1M341.5 224v2M342 223.5h1M343 222.5h1M344.5 220v2M345 219.5h1M346 218.5h1M347 217.5h1M348 216.5h1M349 215.5h1M350 214.5h1M351 213.5h1M352.5 211v2M353 210.5h1M354 209.5h1M355 208.5h2M357 207.5h1M358 206.5h1M359 205.5h1M360 204.5h1M361 203.5h1M362 202.5h1M363 201.5h2M365 200.5h1M366 199.5h2M368 198.5h2M370 197.5h3M373 196.5h3M376 197.5h2M378 198.5h3M381 199.5h4M385 200.5h2M387 201.5h2M389 202.5h1M390 203.5h2M392 204.5h2M394 205.5h1M395 206.5h1M396 207.5h1M397 208.5h1M398 209.5h3M401 210.5h2M403 211.5h2M405 212.5h1M406 213.5h1M407 214.5h2M409 215.5h1M410 216.5h1M411 217.5h2M413 218.5h1M414 219.5h7M421 220.5h2M423 221.5h2M425 222.5h1M426 223.5h1M427 224.5h2M429 225.5h1M430 226.5h1M431 227.5h2M433 228.5h1M434 229.5h1M435.5 230v2M436 232.5h1M437.5 233v2M438 235.5h1M439 236.5h1M440.5 237v2M441 239.5h1M442 240.5h1M443.5 241v2M444 243.5h1M445.5 244v2M446 246.5h1M447.5 247v2M448 249.5h1M449.5 250v2M450 252.5h2M452 253.5h2M454 254.5h2M456 255.5h2M458 256.5h7M465 255.5h4M469 254.5h4M473 255.5h4M477 256.5h3M480 257.5h2M482 258.5h1M483 259.5h2M485 260.5h1M486 261.5h2M488 262.5h2M490 263.5h3M493 262.5h2M495 263.5h1M496 264.5h1M497 265.5h1M498 266.5h1M499 267.5h1M500.5 268v2M501 270.5h1M502 271.5h3M505 272.5h2M507 273.5h1M508 274.5h1M509 275.5h1M510 276.5h1M511 277.5h1M512 278.5h1M513 279.5h1M514 280.5h1M515 281.5h1M516 282.5h1M517 283.5h1M518 284.5h1M519 285.5h1M520 286.5h1M521 287.5h1M522 288.5h1M523 289.5h2M525 290.5h1M526 291.5h7M533 292.5h3M536 293.5h2M538 294.5h2M540 295.5h2M542 296.5h1M543 297.5h1M544.5 298v2M545 300.5h1M546 301.5h1M547.5 302v2M548 304.5h1M549.5 305v2M550.5 307v2M551.5 309v2M552.5 311v2M553.5 313v2M554.5 315v2M555 316.5h1M556 317.5h2M558 318.5h1M559 319.5h2M561 320.5h1M562 321.5h1M563 322.5h1M564 323.5h1M565 324.5h1M566 325.5h2M568 326.5h2M570 327.5h2M572 328.5h2M574 329.5h3M577 330.5h3M580 329.5h2M582 328.5h1M583 327.5h2M585 326.5h1M586 325.5h3M589 324.5h2M591 323.5h2M593 322.5h1M594 321.5h1M595 320.5h1M596 319.5h1M597 318.5h1M598 317.5h1M599 316.5h1M600 315.5h1M601 314.5h1M602 313.5h1M603 312.5h1M604.5 310v2M605 309.5h1M606 308.5h1M607 307.5h2M609 306.5h1M610 305.5h2M612 304.5h2M614 303.5h3M617 302.5h2M619 301.5h2M621 300.5h1M622 299.5h1M623 298.5h2M625 297.5h1M626 296.5h1M627 295.5h1M628.5 293v2M629 292.5h1M630 291.5h1M631 290.5h1M632.5 288v2M633 287.5h1M634 286.5h1M635.5 284v2M636.5 282v2M637.5 280v2M638 279.5h1M639 278.5h1M640.5 276v2M641 275.5h1M642 274.5h1M643 273.5h1M644.5 271v2M645 270.5h1M646 269.5h1M647.5 267v2M648 266.5h1M649.5 264v2M650.5 262v2M651.5 260v2M652.5 258v2M653.5 256v2M654 255.5h1M655 254.5h1M656 253.5h1M657 252.5h1M658 251.5h1M659 250.5h2M661 249.5h1M662 248.5h1M663 247.5h1M664 246.5h1M665 245.5h1M666 244.5h1M667 243.5h2M669 242.5h1M670 241.5h1M671 240.5h1M672.5 238v2M673 237.5h1M674 236.5h1M675 235.5h2M677 234.5h1M678 233.5h2M680 232.5h2M682 231.5h1M683 230.5h1M684 229.5h1M685 228.5h1M686 227.5h1M687 226.5h2M689 225.5h1M690 224.5h1M691 223.5h2M693 222.5h1M694 221.5h2M696 220.5h2M698 219.5h1M699 218.5h1M700 217.5h1M701 216.5h1M702 215.5h3M705 214.5h3M708 213.5h2M710 212.5h1M711 211.5h2M713 210.5h1M714 209.5h3M717 208.5h3M720 207.5h2M722 206.5h3M725 207.5h8M733 208.5h4M737 209.5h3M740 208.5h2M742 207.5h3M745 206.5h2M747 205.5h2M749 204.5h1M750 203.5h11M761 202.5h4M765 201.5h16M781 200.5h8M789 201.5h2M791 202.5h2M793 203.5h1M794 204.5h1M795 205.5h2M797 206.5h1M798 207.5h3M801 208.5h2M803 209.5h2M805 210.5h1M806 211.5h3M809 212.5h3M812 213.5h2M814 214.5h3M817 215.5h3M820 216.5h2M822 217.5h1M823 218.5h2M825 219.5h1M826 220.5h1M827 221.5h2M829 222.5h1M830 223.5h1M831 224.5h1M832 225.5h1M833 226.5h1M834 227.5h1M835 228.5h2M837 229.5h1M838 230.5h1M839 231.5h1M840 232.5h1M841 233.5h1M842 234.5h1M843 235.5h2M845 236.5h1M846 237.5h1M847 238.5h2M849 239.5h1M850 240.5h3M853 241.5h4M857 242.5h4M861 243.5h11M872 242.5h2M874 241.5h1M875 240.5h1M876 239.5h1M877 238.5h1M878 237.5h1M879 236.5h1M880 235.5h1M881 234.5h1M882 233.5h1M883 232.5h1M884 231.5h1M885 230.5h1M886 229.5h1M887.5 227v2M888 226.5h1M889.5 224v2M890.5 222v2M891.5 220v2M892.5 218v2M893.5 216v2M894 215.5h1M895.5 213v2M896.5 211v2M897.5 209v2M898 208.5h1M899.5 206v2M900.5 204v2M901.5 202v2M902.5 200v2M903.5 198v2M904.5 196v2M905.5 194v2M906.5 192v2M907.5 190v2M908.5 188v2M909.5 186v2M910.5 183v3M911.5 181v2M912.5 179v2M913.5 177v2M914 176.5h1M915.5 174v2M916.5 172v2M917.5 170v2M918 169.5h1M919.5 167v2M920.5 165v2M921.5 163v2M922.5 161v2M923.5 159v2M924.5 157v2M925.5 155v2M926 154.5h1M927.5 152v2M928 151.5h1M929.5 149v2M930 148.5h1M931.5 146v2M932 145.5h1M933.5 143v2M934 142.5h1M935.5 140v2M936.5 138v2M937.5 136v2M938 135.5h1M939.5 133v2M940 132.5h1M941.5 130v2M942 129.5h1M943.5 127v2M944 126.5h1M945.5 124v2M946 123.5h1M947 122.5h1M948.5 120v2M949 119.5h1M950 118.5h1M951.5 116v2M952 115.5h1M953.5 113v2M954 112.5h1M955.5 110v2M956 109.5h1M957.5 107v2M958 106.5h1M959 105.5h1M960 104.5h1M961 103.5h1M962 102.5h1M963 101.5h2M965 100.5h1M966 99.5h3M969 98.5h3M972 99.5h2M974 100.5h2M976 101.5h2M978 102.5h2M980 103.5h2M982 104.5h2M984 105.5h2M986 106.5h1M987 107.5h2M989 108.5h1M990 109.5h1M991 110.5h2M993 111.5h1M994 112.5h1M995 113.5h1M996 114.5h1M997 115.5h1M998 116.5h1M999 117.5h2M1001 118.5h1M1002 119.5h1M1003 120.5h2M1005 121.5h1M1006 122.5h1M1007.5 123v2M1008 125.5h1M1009.5 126v2M1010 128.5h1M1011.5 129v2M1012 131.5h1M1013.5 132v2M1014 134.5h1M1015 135.5h1M1016.5 136v2M1017 138.5h1M1018 139.5h1M1019.5 140v2M1020 142.5h1M1021.5 143v2M1022 145.5h1M1023 146.5h2M1025 147.5h1M1026 148.5h1M1027 149.5h2M1029 150.5h1M1030 151.5h1M1031 152.5h1M1032 153.5h1M1033 154.5h1M1034 155.5h1M1035.5 156v2M1036 158.5h1M1037.5 159v2M1038 161.5h1M1039.5 162v2M1040.5 164v2M1041.5 166v2M1042.5 168v2M1043.5 170v2M1044.5 172v2M1045.5 174v2M1046 176.5h1M1047.5 177v2M1048.5 179v2M1049.5 181v2M1050 183.5h1M1051 184.5h1M1052.5 185v2M1053 187.5h1M1054 188.5h1M1055 189.5h1M1056.5 190v2M1057 192.5h1M1058.5 193v2M1059.5 195v2M1060.5 197v2M1061.5 199v2M1062 201.5h1M1063.5 202v2M1064 204.5h1M1065.5 205v2M1066 207.5h1M1067.5 208v2M1068.5 210v2M1069.5 212v2M1070 214.5h1M1071.5 215v2M1072 217.5h1M1073.5 218v2M1074 220.5h1M1075.5 221v2M1076 223.5h1M1077.5 224v2M1078 226.5h1M1079 227.5h1M1080.5 228v2M1081 230.5h1M1082 231.5h1M1083 232.5h1M1084 233.5h1M1085 234.5h1M1086 235.5h1M1087 236.5h1M1088 237.5h1M1089 238.5h1M1090 239.5h3M1093 240.5h6M1099 241.5h2M1101 242.5h1M1102.5 243v2M1103.5 245v2M1104.5 247v2M1105.5 249v2M1106.5 251v2M1107.5 253v2M1108.5 255v3M1109.5 258v2M1110.5 260v3M1111.5 263v3M1112.5 266v3M1113.5 269v3M1114.5 272v3M1115.5 275v3M1116.5 278v2M1117.5 280v3M1118.5 283v3M1119.5 286v2M1120.5 288v2M1121.5 290v2M1122.5 292v3M1123.5 295v2M1124.5 297v2M1125.5 299v2M1126 301.5h1M1127 302.5h1M1128 303.5h1M1129 304.5h1M1130 305.5h1" fill="none" stroke="#ffff00" stroke-width="1"/>
<path d="M6 270.5h5M11 271.5h1M12 272.5h1M13 273.5h1M14 274.5h1M15 273.5h1M16 272.5h1M17 271.5h1M18 270.5h3M21 269.5h8M29 268.5h4M33 267.5h16M49 266.5h2M51 265.5h1M52 264.5h1M53 263.5h1M54 262.5h1M55 261.5h2M57 260.5h1M58 259.5h6M64 260.5h2M66 261.5h1M67 262.5h1M68.5 263v2M69 265.5h1M70 266.5h1M71.5 267v2M72.5 269v2M73.5 271v2M74 273.5h1M75 274.5h1M76 275.5h1M77 276.5h1M78 277.5h1M79.5 278v2M80 280.5h1M81.5 281v2M82 283.5h1M83.5 284v2M84 286.5h1M85.5 287v2M86.5 289v2M87.5 291v2M88.5 293v2M89.5 295v2M90.5 297v2M91.5 299v2M92.5 301v2M93.5 303v2M94.5 305v3M95.5 308v3M96.5 311v3M97.5 314v3M98.5 317v3M99.5 320v3M100.5 323v4M101.5 327v3M102.5 330v3M103.5 333v3M104.5 336v3M105.5 339v3M106.5 342v3M107.5 345v4M108.5 349v3M109.5 352v4M110.5 356v3M111.5 359v4M112.5 363v3M113.5 366v4M114.5 370v3M115.5 373v3M116.5 376v2M117.5 378v3M118.5 381v3M119.5 384v2M120.5 386v2M121.5 388v2M122.5 390v3M123.5 393v2M124.5 395v3M125.5 398v2M126.5 400v2M127.5 402v2M128.5 404v2M129.5 406v2M130.5 408v2M131.5 410v2M132.5 412v2M133.5 414v2M134.5 416v2M135 418.5h1M136.5 419v2M137 421.5h1M138 422.5h1M139 423.5h1M140 424.5h1M141 425.5h1M142 426.5h1M143 427.5h1M144.5 428v2M145 430.5h1M146 431.5h1M147 432.5h1M148.5 433v2M149 435.5h1M150 436.5h2M152 437.5h2M154 438.5h3M157 439.5h2M159 440.5h2M161 441.5h1M162 442.5h1M163 443.5h2M165 444.5h1M166 445.5h3M169 446.5h2M170 447.5h1M171.5 448v2M172.5 450v2M173.5 452v2M174 454.5h1M175.5 455v2M176 457.5h1M177.5 458v2M178 460.5h1M179 461.5h1M180 462.5h1M181 463.5h1M182 464.5h2M184 465.5h2M186 466.5h2M188 467.5h2M190 468.5h1M191 469.5h1M192.5 470v2M193 472.5h1M194 473.5h1M195 472.5h2M197 471.5h1M198 470.5h1M199 469.5h1M200 468.5h1M201 467.5h1M202.5 465v2M203.5 463v2M204.5 461v2M205.5 459v2M206.5 457v2M207.5 455v2M208.5 453v2M209.5 451v2M210.5 449v2M211.5 447v2M212.5 445v2M213.5 443v2M214.5 440v3M215.5 436v4M216.5 432v4M217.5 428v4M218.5 425v3M219.5 421v4M220.5 418v3M221.5 414v4M222.5 411v3M223.5 408v3M224.5 405v3M225.5 402v3M226.5 398v4M227.5 394v4M228.5 390v4M229.5 386v4M230.5 381v5M231.5 377v4M232.5 373v4M233.5 369v4M234.5 364v5M235.5 360v4M236.5 356v4M237.5 352v4M238.5 348v4M239.5 345v3M240.5 342v3M241.5 339v3M242.5 336v3M243.5 333v3M244.5 329v4M245.5 326v3M246.5 323v3M247.5 320v3M248.5 316v4M249.5 313v3M250.5 311v2M251.5 309v2M252.5 307v2M253.5 305v2M254 304.5h1M255 303.5h1M256 302.5h1M257 301.5h1M258 300.5h1M259 299.5h1M260.5 297v2M261 296.5h1M262 295.5h1M263.5 293v2M264 292.5h1M265.5 290v2M266 289.5h1M267.5 287v2M268 286.5h1M269.5 284v2M270 283.5h2M272 282.5h2M274 281.5h1M275 280.5h2M277 279.5h1M278 278.5h2M280 277.5h2M282 276.5h2M284 275.5h2M286 274.5h2M288 273.5h2M290 272.5h1M291 271.5h1M292 270.5h1M293 269.5h1M294 268.5h1M295 267.5h1M296.5 265v2M297 264.5h1M298 263.5h1M299 262.5h1M300 261.5h1M301 260.5h1M302 259.5h1M303.5 257v2M304 256.5h1M305.5 254v2M306 253.5h1M307.5 251v2M308.5 249v2M309.5 247v2M310.5 245v2M311.5 242v3M312.5 240v2M313.5 237v3M314.5 235v2M315.5 233v2M316 232.5h1M317.5 230v2M318 229.5h1M319 228.5h1M320.5 226v2M321 225.5h1M322 224.5h1M323 223.5h2M325 222.5h1M326 221.5h1M327 220.5h1M328 219.5h1M329 218.5h1M330 217.5h2M332 216.5h2M334 215.5h1M335 214.5h2M337 213.5h1M338 212.5h1M339.5 210v2M340 209.5h1M341.5 207v2M342 206.5h1M343 205.5h1M344.5 203v2M345 202.5h1M346 201.5h1M347 200.5h2M349 199.5h1M350 198.5h1M351.5 196v2M352.5 194v2M353.5 192v2M354 191.5h1M355 190.5h1M356 189.5h1M357 188.5h1M358 187.5h2M360 186.5h2M362 185.5h3M365 184.5h2M367 185.5h1M368 186.5h1M369 187.5h1M370 188.5h2M372 189.5h2M374 190.5h1M375.5 191v2M376 193.5h1M377.5 194v2M378 196.5h1M379 197.5h1M380 198.5h1M381 199.5h1M382 200.5h1M383 201.5h1M384.5 202v2M385 204.5h1M386 205.5h1M387 206.5h2M389 207.5h1M390 208.5h2M392 209.5h2M394 210.5h1M395 211.5h1M396.5 212v2M397 214.5h1M398 215.5h1M399 216.5h1M400 217.5h1M401 218.5h1M402 219.5h1M403 220.5h1M404 221.5h1M405 222.5h1M406.5 223v2M407.5 225v2M408.5 227v2M409.5 229v2M410 231.5h1M411 232.5h1M412.5 233v2M413 235.5h1M414 236.5h1M415 237.5h2M417 238.5h1M418 239.5h1M419 240.5h1M420.5 241v2M421 243.5h1M422 244.5h3M425 245.5h4M429 246.5h3M432 245.5h2M434 244.5h3M437 245.5h3M440 246.5h2M442 247.5h1M443 248.5h2M445 249.5h1M446 250.5h1M447 251.5h1M448 252.5h1M449 253.5h1M450 254.5h2M452 255.5h2M454 256.5h1M455 257.5h2M457 258.5h1M458 259.5h2M460 260.5h2M462 261.5h2M464 260.5h2M466 259.5h3M469 258.5h2M471 259.5h1M472 260.5h1M473 261.5h1M474 262.5h1M475 263.5h2M477 264.5h1M478 265.5h2M480 266.5h2M482 267.5h1M483 268.5h1M484.5 269v2M485 271.5h1M486 272.5h3M489 273.5h8M497 274.5h3M500 275.5h2M502 276.5h2M504 275.5h2M506 274.5h1M507 275.5h2M509 276.5h1M510 277.5h1M511 278.5h2M513 279.5h1M514 280.5h1M515.5 281v2M516 283.5h1M517.5 284v2M518.5 286v2M519.5 288v2M520.5 290v2M521.5 292v2M522.5 294v2M523.5 296v2M524.5 298v2M525.5 300v2M526 302.5h2M528 303.5h2M530 304.5h1M531 305.5h2M533 306.5h1M534 307.5h1M535 308.5h1M536 309.5h1M537 310.5h1M538 311.5h5M542 312.5h1M543.5 313v2M544.5 315v2M545.5 317v2M546 319.5h1M547.5 320v2M548.5 322v2M549.5 324v2M550 326.5h1M551.5 327v2M552 329.5h1M553.5 330v2M554 332.5h2M556 333.5h2M558 334.5h1M559 335.5h1M560.5 336v2M561 338.5h1M562 339.5h3M565 340.5h2M567 341.5h2M569 342.5h1M570 343.5h2M572 342.5h2M574 341.5h1M575 340.5h1M576.5 338v2M577 337.5h1M578 336.5h1M579.5 334v2M580 333.5h1M581.5 331v2M582 330.5h1M583 329.5h2M585 328.5h1M586 327.5h1M587 326.5h1M588 325.5h1M589 324.5h1M590 323.5h1M591.5 321v2M592 320.5h1M593.5 318v2M594 317.5h1M595.5 315v2M596 314.5h1M597.5 312v2M598.5 310v2M599.5 308v2M600.5 306v2M601.5 304v2M602 303.5h1M603.5 301v2M604.5 299v2M605.5 297v2M606.5 295v2M607.5 293v2M608.5 290v3M609.5 288v2M610.5 286v2M611 285.5h1M612 284.5h1M613 283.5h1M614 282.5h1M615 281.5h1M616 280.5h1M617 279.5h1M618 278.5h1M619 277.5h1M620.5 275v2M621 274.5h1M622 273.5h1M623.5 271v2M624.5 269v2M625.5 267v2M626 266.5h1M627 265.5h2M629 264.5h1M630 263.5h1M631 262.5h2M633 261.5h1M634 260.5h3M637 259.5h4M641 258.5h2M643 257.5h2M645 256.5h1M646 255.5h2M648 254.5h2M650 253.5h1M651 252.5h2M653 251.5h1M654 250.5h1M655 249.5h2M657 248.5h1M658 247.5h2M660 246.5h2M662 245.5h1M663 244.5h1M664.5 242v2M665 241.5h1M666 240.5h1M667.5 238v2M668.5 236v2M669.5 234v2M670.5 232v2M671.5 230v2M672.5 228v2M673.5 226v2M674.5 224v2M675.5 222v2M676 221.5h1M677.5 219v2M678 218.5h1M679 217.5h1M680.5 215v2M681 214.5h1M682 213.5h1M683.5 211v2M684 210.5h1M685.5 208v2M686 207.5h1M687 206.5h1M688 205.5h1M689 204.5h1M690 203.5h1M691 202.5h2M693 201.5h1M694 200.5h3M697 199.5h4M701 198.5h4M705 199.5h4M709 200.5h11M720 201.5h2M722 202.5h1M723 203.5h1M724.5 204v2M725 206.5h1M726 207.5h1M727 208.5h1M728 209.5h1M729 210.5h1M730 211.5h1M731 212.5h1M732 213.5h1M733 214.5h1M734 215.5h2M736 216.5h2M738 217.5h3M741 218.5h6M747 217.5h1M748.5 215v2M749 214.5h1M750 213.5h1M751 212.5h1M752 211.5h1M753 210.5h1M754 209.5h1M755 208.5h2M757 207.5h1M758 206.5h1M759.5 204v2M760 203.5h1M761.5 201v2M762 200.5h1M763 199.5h1M764 198.5h1M765 197.5h1M766 196.5h3M769 195.5h3M772 194.5h2M774 193.5h3M777 192.5h2M779 191.5h2M781 190.5h1M782 189.5h3M785 188.5h6M791 189.5h1M792.5 190v2M793 192.5h1M794 193.5h1M795.5 194v2M796 196.5h1M797.5 197v2M798 199.5h1M799 200.5h1M800.5 201v2M801 203.5h1M802.5 204v2M803.5 206v2M804.5 208v2M805.5 210v2M806.5 212v2M807.5 214v2M808.5 216v2M809.5 218v2M810.5 220v2M811.5 222v2M812.5 224v2M813.5 226v2M814 228.5h1M815.5 229v2M816.5 231v2M817.5 233v2M818 235.5h1M819.5 236v2M820.5 238v2M821.5 240v2M822 242.5h1M823 243.5h1M824 244.5h1M825 245.5h1M826 246.5h1M827 247.5h1M828 248.5h1M829 249.5h1M830 250.5h3M833 251.5h2M835 252.5h2M837 253.5h1M838 254.5h2M840 255.5h2M842 256.5h3M845 255.5h2M847 254.5h1M848.5 252v2M849 251.5h1M850 250.5h1M851 249.5h1M852 248.5h1M853 247.5h1M854 246.5h2M856 245.5h2M858 244.5h1M859 243.5h2M861 242.5h1M862 241.5h1M863 240.5h1M864.5 238v2M865 237.5h1M866 236.5h1M867 235.5h1M868.5 233v2M869 232.5h1M870 231.5h1M871 230.5h1M872 229.5h1M873 228.5h1M874 227.5h1M875 226.5h1M876 225.5h1M877 224.5h1M878 223.5h1M879 222.5h1M880 221.5h1M881 220.5h1M882 219.5h1M883.5 217v2M884 216.5h1M885.5 214v2M886 213.5h1M887.5 211v2M888 210.5h1M889.5 208v2M890.5 206v2M891.5 204v2M892.5 202v2M893.5 200v2M894.5 197v3M895.5 195v2M896.5 193v2M897.5 191v2M898.5 189v2M899.5 187v2M900.5 185v2M901.5 183v2M902.5 181v2M903.5 178v3M904.5 176v2M905.5 173v3M906.5 170v3M907.5 168v2M908.5 165v3M909.5 163v2M910.5 160v3M911.5 157v3M912.5 155v2M913.5 152v3M914.5 149v3M915.5 147v2M916.5 144v3M917.5 142v2M918.5 139v3M919.5 137v2M920.5 135v2M921.5 133v2M922.5 131v2M923.5 129v2M924.5 127v2M925.5 125v2M926.5 122v3M927.5 120v2M928.5 118v2M929.5 116v2M930.5 114v2M931.5 112v2M932.5 110v2M933.5 108v2M934.5 106v2M935.5 104v2M936.5 102v2M937.5 100v2M938 99.5h1M939 98.5h1M940.5 96v2M941 95.5h1M942 94.5h1M943 93.5h2M945 92.5h1M946 91.5h3M949 90.5h2M951 89.5h2M953 88.5h1M954 87.5h2M956 86.5h2M958 85.5h2M960 86.5h2M962 87.5h1M963 88.5h1M964 89.5h1M965 90.5h1M966 91.5h1M967 92.5h1M968.5 93v2M969 95.5h1M970 96.5h1M971.5 97v2M972.5 99v2M973.5 101v2M974 103.5h1M975 104.5h1M976.5 105v2M977 107.5h1M978 108.5h1M979.5 109v2M980 111.5h1M981.5 112v2M982 114.5h1M983 115.5h1M984.5 116v2M985 118.5h1M986 119.5h1M987 120.5h2M989 121.5h1M990 122.5h1M991 123.5h1M992 124.5h1M993 125.5h1M994 126.5h1M995 127.5h1M996.5 128v2M997 130.5h1M998 131.5h1M999 132.5h2M1001 133.5h1M1002 134.5h1M1003 135.5h1M1004 136.5h1M1005 137.5h1M1006.5 138v2M1007.5 140v2M1008.5 142v2M1009.5 144v2M1010.5 146v3M1011.5 149v2M1012.5 151v3M1013.5 154v2M1014.5 156v2M1015.5 158v2M1016.5 160v2M1017.5 162v2M1018 164.5h1M1019 165.5h1M1020 166.5h1M1021 167.5h1M1022 168.5h2M1024 169.5h2M1026 170.5h2M1028 169.5h2M1030 168.5h3M1033 169.5h2M1035 170.5h1M1036 171.5h1M1037 172.5h1M1038 173.5h1M1039 174.5h1M1040.5 175v2M1041 177.5h1M1042.5 178v2M1043.5 180v2M1044.5 182v3M1045.5 185v2M1046.5 187v3M1047.5 190v2M1048.5 192v2M1049.5 194v2M1050.5 196v3M1051.5 199v2M1052.5 201v2M1053.5 203v2M1054.5 205v2M1055.5 207v2M1056.5 209v3M1057.5 212v2M1058.5 214v3M1059.5 217v3M1060.5 220v2M1061.5 222v3M1062.5 225v2M1063.5 227v2M1064.5 229v2M1065.5 231v2M1066 233.5h1M1067.5 234v2M1068 236.5h1M1069.5 237v2M1070 239.5h1M1071 240.5h1M1072.5 241v2M1073 243.5h1M1074 244.5h1M1075 245.5h1M1076 246.5h1M1077 247.5h1M1078 248.5h1M1079.5 249v2M1080.5 251v2M1081.5 253v2M1082 255.5h1M1083 256.5h1M1084.5 257v2M1085 259.5h1M1086 260.5h1M1087 261.5h1M1088 262.5h1M1089 263.5h1M1090 264.5h3M1093 265.5h4M1097 264.5h6M1103.5 265v2M1104 267.5h1M1105.5 268v2M1106.5 270v2M1107.5 272v2M1108.5 274v2M1109.5 276v2M1110.5 278v3M1111.5 281v2M1112.5 283v2M1113.5 285v2M1114 287.5h1M1115.5 288v2M1116.5 290v2M1117.5 292v2M1118.5 294v2M1119.5 296v2M1120.5 298v2M1121.5 300v2M1122 302.5h1M1123.5 303v2M1124 305.5h1M1125.5 306v2M1126 308.5h1M1127.5 309v2M1128.5 311v2M1129.5 313v2M1130 315.5h1" fill="none" stroke="#ff0000" stroke-width="1"/>
<path d="M6 274.5h9M15 273.5h1M16 272.5h1M17 271.5h1M18 270.5h1M19.5 268v2M20 267.5h1M21.5 265v2M22 264.5h1M23 263.5h1M24 262.5h1M25 261.5h1M26 260.5h3M29 259.5h4M33 260.5h4M37 259.5h4M41 260.5h2M43 261.5h2M45 262.5h1M46 263.5h2M48 264.5h2M50 265.5h1M51 264.5h1M52.5 262v2M53 261.5h1M54 260.5h3M57 259.5h4M61 258.5h2M63 259.5h1M64.5 260v2M65 262.5h1M66.5 263v2M67.5 265v2M68.5 267v2M69.5 269v2M70.5 271v3M71.5 274v3M72.5 277v2M73.5 279v3M74.5 282v2M75.5 284v2M76.5 286v2M77.5 288v2M78.5 290v2M79.5 292v4M80.5 296v4M81.5 300v4M82.5 304v3M83.5 307v4M84.5 311v3M85.5 314v4M86.5 318v4M87.5 322v4M88.5 326v4M89.5 330v4M90.5 334v3M91.5 337v4M92.5 341v3M93.5 344v4M94.5 348v3M95.5 351v4M96.5 355v4M97.5 359v4M98.5 363v3M99.5 366v4M100.5 370v3M101.5 373v4M102.5 377v4M103.5 381v4M104.5 385v5M105.5 390v4M106.5 394v4M107.5 398v3M108.5 401v4M109.5 405v3M110.5 408v3M111.5 411v4M112.5 415v3M113.5 418v4M114.5 422v2M115 424.5h1M116.5 425v2M117 427.5h1M118 428.5h1M119 429.5h1M120.5 430v2M121 432.5h1M122 433.5h1M123.5 434v2M124 436.5h1M125.5 437v2M126 439.5h3M129 438.5h4M133 439.5h2M135 438.5h1M136.5 436v2M137 435.5h1M138 434.5h1M139 433.5h1M140 432.5h1M141 431.5h1M142 430.5h1M143 431.5h1M144 432.5h1M145 433.5h1M146 434.5h1M147 435.5h1M148.5 436v2M149 438.5h1M150 439.5h2M152 438.5h2M154 437.5h2M156 438.5h2M158 439.5h1M159.5 440v2M160 442.5h1M161.5 443v2M162.5 445v2M163.5 447v3M164.5 450v2M165.5 452v3M166.5 455v2M167.5 457v2M168 459.5h1M169.5 460v2M170.5 462v2M171.5 464v3M172.5 467v3M173.5 470v3M174.5 473v3M175.5 476v2M176.5 478v2M177.5 480v2M178.5 482v2M179.5 484v2M180.5 486v2M181.5 488v2M182.5 490v2M183 491.5h1M184 492.5h2M186 493.5h1M187 492.5h2M189 491.5h1M190 490.5h3M193 489.5h2M194 488.5h1M195.5 486v2M196.5 483v3M197.5 481v2M198.5 477v4M199.5 472v5M200.5 466v6M201.5 461v5M202.5 455v6M203.5 449v6M204.5 443v6M205.5 437v6M206.5 431v6M207.5 425v6M208.5 419v6M209.5 413v6M210.5 407v6M211.5 402v5M212.5 397v5M213.5 392v5M214.5 386v6M215.5 379v7M216.5 373v6M217.5 366v7M218.5 359v7M219.5 352v7M220.5 346v6M221.5 339v7M222.5 334v5M223.5 330v4M224.5 326v4M225.5 322v4M226.5 319v3M227.5 316v3M228.5 313v3M229.5 310v3M230.5 307v3M231.5 304v3M232.5 302v2M233.5 299v3M234.5 296v3M235.5 294v2M236.5 292v2M237.5 290v2M238.5 288v2M239 287.5h1M240 286.5h1M241 285.5h1M242 284.5h2M244 285.5h2M246 286.5h3M249 287.5h6M255 288.5h1M256.5 289v2M257 291.5h1M258 292.5h2M260 293.5h2M262 294.5h1M263 293.5h2M265 292.5h1M266.5 290v2M267.5 288v2M268.5 286v2M269.5 284v2M270.5 282v2M271.5 280v2M272.5 278v2M273.5 276v2M274 275.5h1M275 274.5h1M276.5 272v2M277 271.5h1M278 270.5h1M279.5 268v2M280 267.5h1M281.5 265v2M282.5 263v2M283.5 261v2M284.5 259v2M285.5 257v2M286 256.5h1M287.5 254v2M288 253.5h1M289.5 251v2M290 250.5h1M291 249.5h1M292.5 247v2M293 246.5h1M294 245.5h2M296 244.5h2M298 243.5h5M303.5 241v2M304 240.5h1M305.5 238v2M306.5 236v2M307.5 234v2M308.5 232v2M309.5 230v2M310.5 227v3M311.5 223v4M312.5 220v3M313.5 216v4M314.5 214v2M315 213.5h1M316.5 211v2M317 210.5h1M318 209.5h1M319 208.5h1M320.5 206v2M321 205.5h1M322 204.5h1M323.5 202v2M324 201.5h1M325.5 199v2M326 198.5h1M327.5 196v2M328.5 194v2M329.5 192v2M330 191.5h3M333 192.5h2M335 193.5h2M337 194.5h1M338 195.5h1M339 196.5h2M341 197.5h1M342 198.5h1M343 197.5h1M344 196.5h1M345 195.5h1M346 194.5h3M349 193.5h2M350 192.5h1M351.5 190v2M352.5 188v2M353.5 186v2M354.5 184v2M355 184.5h2M357 183.5h2M359 182.5h1M360.5 180v2M361 179.5h1M362 178.5h1M363 177.5h1M364.5 175v2M365 174.5h1M366 173.5h1M367.5 174v2M368 176.5h1M369.5 177v2M370 179.5h1M371.5 180v2M372.5 182v2M373.5 184v2M374.5 186v2M375.5 188v3M376.5 191v4M377.5 195v3M378.5 198v4M379.5 202v4M380.5 206v4M381.5 210v4M382.5 214v3M383.5 217v3M384.5 220v3M385.5 223v3M386.5 226v3M387.5 229v3M388.5 232v2M389.5 234v3M390.5 237v3M391.5 240v2M392.5 242v3M393.5 245v2M394.5 247v2M395 249.5h2M397 250.5h1M398 251.5h3M401 252.5h2M403.5 250v2M404 249.5h1M405.5 247v2M406 246.5h2M408 247.5h2M410 248.5h2M412 247.5h2M414 246.5h1M415 245.5h1M416.5 243v2M417 242.5h1M418 241.5h3M421 240.5h4M425 239.5h4M429 240.5h3M432 241.5h2M434 242.5h5M439.5 243v2M440.5 245v2M441.5 247v2M442.5 249v2M443.5 251v2M444.5 253v3M445.5 256v2M446.5 258v3M447.5 261v2M448.5 263v2M449.5 265v2M450.5 267v2M451 269.5h1M452.5 270v2M453 272.5h1M454 273.5h1M455 274.5h1M456.5 275v2M457 277.5h1M458 278.5h1M459 279.5h2M461 280.5h1M462 281.5h1M463 280.5h1M464.5 278v2M465 277.5h1M466.5 275v2M467.5 273v2M468.5 271v2M469.5 269v2M470.5 267v2M471 266.5h2M473 265.5h1M474 264.5h1M475 263.5h2M477 262.5h1M478 261.5h5M483 262.5h1M484.5 263v2M485 265.5h1M486 266.5h3M489 265.5h2M491 266.5h1M492.5 267v2M493 269.5h1M494.5 270v2M495.5 272v3M496.5 275v3M497.5 278v3M498.5 281v2M499.5 283v2M500 285.5h1M501.5 286v2M502 288.5h2M504 287.5h2M506 286.5h1M507.5 287v2M508.5 289v2M509.5 291v2M510 293.5h3M513 294.5h2M514 295.5h1M515.5 296v3M516.5 299v3M517.5 302v3M518.5 305v3M519.5 308v3M520.5 311v4M521.5 315v3M522.5 318v2M523 320.5h1M524 321.5h1M525 322.5h1M526 323.5h1M527 322.5h2M529 321.5h1M530 320.5h1M531.5 321v2M532.5 323v2M533.5 325v2M534 327.5h3M537 328.5h6M543 329.5h1M544.5 330v2M545 332.5h1M546 333.5h5M550 334.5h1M551.5 335v2M552.5 337v2M553.5 339v2M554.5 341v2M555 343.5h1M556.5 344v2M557 346.5h1M558 347.5h1M559 348.5h2M561 349.5h1M562 350.5h2M564 351.5h2M566 352.5h1M567 353.5h1M568.5 354v2M569 356.5h1M570.5 356v2M571.5 354v2M572.5 352v2M573.5 350v2M574.5 348v2M575.5 346v2M576.5 343v3M577.5 341v2M578.5 337v4M579.5 332v5M580.5 326v6M581.5 321v5M582.5 317v4M583.5 314v3M584.5 312v2M585.5 309v3M586.5 306v3M587.5 303v3M588.5 300v3M589.5 297v3M590.5 294v3M591.5 291v3M592.5 287v4M593.5 284v3M594.5 280v4M595.5 276v4M596.5 272v4M597.5 268v4M598.5 265v3M599.5 263v2M600.5 261v2M601.5 259v2M602 258.5h1M603 257.5h1M604.5 255v2M605 254.5h1M606 253.5h3M609 254.5h2M611 255.5h2M613 256.5h1M614 257.5h1M615 258.5h1M616 259.5h1M617 260.5h1M618 261.5h2M620 262.5h2M622 263.5h1M623 264.5h1M624 265.5h1M625 266.5h1M626 267.5h9M635 266.5h2M637 265.5h1M638 264.5h1M639 263.5h1M640.5 261v2M641 260.5h1M642.5 258v2M643.5 256v2M644.5 254v2M645.5 252v2M646.5 250v2M647.5 248v2M648.5 246v2M649.5 244v2M650.5 242v2M651.5 240v2M652.5 238v2M653.5 236v2M654.5 234v2M655.5 232v2M656 231.5h1M657.5 229v2M658 228.5h1M659 227.5h1M660 226.5h1M661 225.5h1M662.5 223v2M663.5 221v2M664.5 219v2M665.5 217v2M666.5 214v3M667.5 212v2M668.5 210v2M669.5 208v2M670.5 205v3M671.5 203v2M672.5 201v2M673.5 199v2M674.5 197v2M675 196.5h2M677 195.5h1M678 194.5h2M680 193.5h2M682 192.5h1M683 191.5h1M684.5 189v2M685 188.5h1M686 187.5h1M687 186.5h1M688.5 184v2M689 183.5h1M690 182.5h1M691 183.5h2M693 184.5h1M694 185.5h1M695.5 186v2M696 188.5h1M697.5 189v2M698.5 191v2M699.5 193v2M700.5 195v2M701.5 197v2M702 199.5h1M703 200.5h1M704.5 201v2M705 203.5h1M706 204.5h1M707 205.5h1M708.5 206v2M709 208.5h1M710 209.5h1M711 210.5h1M712.5 211v2M713 213.5h1M714 214.5h1M715 215.5h1M716.5 216v2M717 218.5h1M718 219.5h5M723 220.5h1M724 221.5h1M725 222.5h1M726 223.5h3M729 224.5h4M733 225.5h4M737 226.5h2M739 225.5h1M740 224.5h1M741 223.5h1M742 222.5h1M743 221.5h1M744.5 219v2M745 218.5h1M746.5 216v2M747.5 213v3M748.5 211v2M749.5 208v3M750.5 205v3M751.5 203v2M752.5 200v3M753.5 198v2M754.5 195v3M755.5 193v2M756.5 191v2M757.5 189v2M758.5 186v3M759.5 183v3M760.5 180v3M761.5 177v3M762.5 174v3M763.5 172v2M764.5 170v2M765.5 168v2M766 167.5h3M769 168.5h4M773 169.5h2M774 170.5h1M775.5 171v2M776.5 173v2M777.5 175v2M778.5 177v2M779 179.5h1M780 180.5h1M781 181.5h1M782.5 182v2M783.5 184v2M784.5 186v2M785.5 188v2M786.5 190v2M787.5 192v3M788.5 195v2M789.5 197v3M790.5 200v4M791.5 204v4M792.5 208v4M793.5 212v4M794.5 216v4M795.5 220v3M796.5 223v3M797.5 226v3M798.5 229v3M799.5 232v2M800.5 234v2M801.5 236v2M802.5 238v3M803.5 241v2M804.5 243v2M805.5 245v2M806.5 247v3M807.5 250v2M808.5 252v3M809.5 255v2M810.5 257v2M811.5 259v2M812.5 261v2M813.5 263v2M814 265.5h1M815 266.5h1M816.5 267v2M817 269.5h1M818 270.5h1M819 269.5h1M820 268.5h1M821 267.5h1M822 266.5h1M823 265.5h1M824.5 263v2M825 262.5h1M826 261.5h5M831.5 259v2M832 258.5h1M833.5 256v2M834 255.5h1M835.5 253v2M836 252.5h1M837.5 250v2M838 249.5h1M839 248.5h2M841 247.5h1M842 246.5h1M843.5 244v2M844 243.5h1M845.5 241v2M846 240.5h1M847 239.5h1M848.5 237v2M849 236.5h1M850 235.5h1M851 234.5h1M852 233.5h1M853 232.5h1M854 231.5h1M855 230.5h1M856 229.5h1M857 228.5h1M858 227.5h3M861 226.5h2M863 225.5h1M864 224.5h1M865 223.5h1M866 222.5h1M867 221.5h1M868.5 219v2M869 218.5h1M870 217.5h1M871 216.5h2M873 215.5h1M874 214.5h1M875 213.5h2M877 212.5h1M878 211.5h1M879 210.5h1M880 209.5h1M881 208.5h1M882.5 206v2M883.5 204v2M884.5 202v2M885.5 200v2M886.5 198v2M887.5 195v3M888.5 193v2M889.5 190v3M890.5 187v3M891.5 183v4M892.5 180v3M893.5 176v4M894.5 173v3M895.5 170v3M896.5 168v2M897.5 165v3M898.5 162v3M899.5 158v4M900.5 155v3M901.5 151v4M902.5 147v4M903.5 143v4M904.5 138v5M905.5 134v4M906.5 129v5M907.5 125v4M908.5 121v4M909.5 117v4M910.5 113v4M911.5 110v3M912.5 107v3M913.5 104v3M914.5 101v3M915.5 99v2M916.5 97v2M917.5 95v2M918.5 93v2M919 92.5h1M920 91.5h1M921 90.5h1M922 89.5h1M923.5 87v2M924 86.5h1M925.5 84v2M926 83.5h1M927 82.5h2M929 81.5h1M930 80.5h1M931 81.5h2M933 82.5h1M934 83.5h3M937 84.5h3M940 85.5h2M942 86.5h1M943 87.5h2M945 88.5h1M946 89.5h2M948 90.5h2M950 91.5h6M956 90.5h2M958 89.5h2M960 90.5h2M962 91.5h1M963.5 92v2M964.5 94v2M965.5 96v2M966.5 98v2M967.5 100v2M968.5 102v2M969.5 104v2M970.5 106v2M971.5 108v3M972.5 111v2M973.5 113v3M974.5 116v3M975.5 119v2M976.5 121v2M977.5 123v2M978.5 125v3M979.5 128v3M980.5 131v3M981.5 134v3M982.5 137v3M983.5 140v2M984.5 142v3M985.5 145v2M986.5 147v2M987 149.5h1M988.5 150v2M989 152.5h1M990 153.5h2M992 154.5h2M994 155.5h3M997 156.5h2M999 155.5h1M1000.5 153v2M1001 152.5h1M1002 151.5h3M1005 150.5h2M1007.5 151v2M1008 153.5h1M1009.5 154v2M1010.5 156v2M1011.5 158v2M1012.5 160v2M1013.5 162v2M1014.5 164v3M1015.5 167v2M1016.5 169v2M1017.5 171v2M1018.5 173v2M1019.5 175v2M1020.5 177v2M1021.5 179v2M1022 181.5h2M1024 182.5h2M1026 183.5h2M1028 184.5h2M1030 185.5h2M1032 186.5h2M1034 187.5h1M1035 188.5h2M1037 189.5h1M1038 190.5h2M1040 191.5h2M1042.5 192v2M1043.5 194v2M1044.5 196v2M1045.5 198v2M1046.5 200v3M1047.5 203v3M1048.5 206v3M1049.5 209v3M1050.5 212v3M1051.5 215v3M1052.5 218v4M1053.5 222v3M1054.5 225v4M1055.5 229v4M1056.5 233v5M1057.5 238v4M1058.5 242v5M1059.5 247v5M1060.5 252v6M1061.5 258v5M1062.5 263v4M1063.5 267v2M1064.5 269v3M1065.5 272v2M1066.5 274v3M1067.5 277v3M1068.5 280v2M1069.5 282v3M1070.5 285v2M1071 286.5h4M1075 285.5h2M1077 284.5h1M1078 283.5h3M1081 284.5h2M1082 283.5h1M1083.5 281v2M1084.5 279v2M1085.5 277v2M1086.5 275v2M1087.5 272v3M1088.5 268v4M1089.5 265v3M1090.5 262v3M1091.5 260v2M1092.5 258v2M1093.5 256v2M1094.5 254v2M1095.5 251v3M1096.5 248v3M1097.5 245v3M1098.5 243v2M1099 243.5h2M1101 242.5h2M1102 243.5h1M1103.5 244v4M1104.5 248v3M1105.5 251v4M1106.5 255v4M1107.5 259v4M1108.5 263v4M1109.5 267v4M1110.5 271v6M1111.5 277v6M1112.5 283v6M1113.5 289v6M1114.5 295v7M1115.5 302v7M1116.5 309v6M1117.5 315v7M1118.5 322v7M1119.5 329v6M1120.5 335v6M1121.5 341v6M1122.5 347v7M1123.5 354v6M1124.5 360v6M1125.5 366v6M1126.5 372v4M1127.5 376v3M1128.5 379v4M1129.5 383v3M1130.5 386v2" fill="none" stroke="#0000cd" stroke-width="1"/>
<rect x="1011" y="212" width="196" height="6" fill="#f8393c"/>
<rect x="1042" y="325" width="157" height="6" fill="#99cc00"/>
<rect x="18" y="612" width="1" height="1" fill="#c0c0c0"/>
<rect x="22" y="612" width="1" height="1" fill="#c0c0c0"/>
<rect x="42" y="612" width="1" height="2" fill="#c0c0c0"/>
<rect x="46" y="612" width="1" height="2" fill="#c0c0c0"/>
<rect x="50" y="612" width="1" height="2" fill="#c0c0c0"/>
<rect x="54" y="612" width="1" height="1" fill="#c0c0c0"/>
<rect x="58" y="612" width="1" height="1" fill="#c0c0c0"/>
<rect x="62" y="612" width="1" height="1" fill="#c0c0c0"/>
<rect x="66" y="612" width="1" height="3" fill="#c0c0c0"/>
<rect x="70" y="612" width="1" height="8" fill="#c0c0c0"/>
<rect x="74" y="612" width="1" height="13" fill="#c0c0c0"/>
<rect x="78" y="612" width="1" height="15" fill="#c0c0c0"/>
<rect x="82" y="612" width="1" height="18" fill="#c0c0c0"/>
<rect x="86" y="612" width="1" height="21" fill="#c0c0c0"/>
<rect x="90" y="612" width="1" height="25" fill="#c0c0c0"/>
<rect x="94" y="612" width="1" height="29" fill="#c0c0c0"/>
<rect x="98" y="612" width="1" height="36" fill="#c0c0c0"/>
<rect x="102" y="612" width="1" height="42" fill="#c0c0c0"/>
<rect x="106" y="612" width="1" height="45" fill="#c0c0c0"/>
<rect x="110" y="612" width="1" height="47" fill="#c0c0c0"/>
<rect x="114" y="612" width="1" height="49" fill="#c0c0c0"/>
<rect x="118" y="612" width="1" height="47" fill="#c0c0c0"/>
<rect x="122" y="612" width="1" height="46" fill="#c0c0c0"/>
<rect x="126" y="612" width="1" height="48" fill="#c0c0c0"/>
<rect x="130" y="612" width="1" height="48" fill="#c0c0c0"/>
<rect x="134" y="612" width="1" height="47" fill="#c0c0c0"/>
<rect x="138" y="612" width="1" height="42" fill="#c0c0c0"/>
<rect x="142" y="612" width="1" height="39" fill="#c0c0c0"/>
<rect x="146" y="612" width="1" height="37" fill="#c0c0c0"/>
<rect x="150" y="612" width="1" height="38" fill="#c0c0c0"/>
<rect x="154" y="612" width="1" height="38" fill="#c0c0c0"/>
<rect x="158" y="612" width="1" height="37" fill="#c0c0c0"/>
<rect x="162" y="612" width="1" height="39" fill="#c0c0c0"/>
<rect x="166" y="612" width="1" height="39" fill="#c0c0c0"/>
<rect x="170" y="612" width="1" height="37" fill="#c0c0c0"/>
<rect x="174" y="612" width="1" height="40" fill="#c0c0c0"/>
<rect x="178" y="612" width="1" height="42" fill="#c0c0c0"/>
<rect x="182" y="612" width="1" height="43" fill="#c0c0c0"/>
<rect x="186" y="612" width="1" height="39" fill="#c0c0c0"/>
<rect x="190" y="612" width="1" height="36" fill="#c0c0c0"/>
<rect x="194" y="612" width="1" height="33" fill="#c0c0c0"/>
<rect x="198" y="612" width="1" height="23" fill="#c0c0c0"/>
<rect x="202" y="612" width="1" height="14" fill="#c0c0c0"/>
<rect x="206" y="612" width="1" height="6" fill="#c0c0c0"/>
<rect x="210" y="610" width="1" height="3" fill="#c0c0c0"/>
<rect x="214" y="603" width="1" height="10" fill="#c0c0c0"/>
<rect x="218" y="594" width="1" height="19" fill="#c0c0c0"/>
<rect x="222" y="587" width="1" height="26" fill="#c0c0c0"/>
<rect x="226" y="582" width="1" height="31" fill="#c0c0c0"/>
<rect x="230" y="578" width="1" height="35" fill="#c0c0c0"/>
<rect x="234" y="575" width="1" height="38" fill="#c0c0c0"/>
<rect x="238" y="573" width="1" height="40" fill="#c0c0c0"/>
<rect x="242" y="575" width="1" height="38" fill="#c0c0c0"/>
<rect x="246" y="575" width="1" height="38" fill="#c0c0c0"/>
<rect x="250" y="575" width="1" height="38" fill="#c0c0c0"/>
<rect x="254" y="576" width="1" height="37" fill="#c0c0c0"/>
<rect x="258" y="579" width="1" height="34" fill="#c0c0c0"/>
<rect x="262" y="580" width="1" height="33" fill="#c0c0c0"/>
<rect x="266" y="578" width="1" height="35" fill="#c0c0c0"/>
<rect x="270" y="577" width="1" height="36" fill="#c0c0c0"/>
<rect x="274" y="575" width="1" height="38" fill="#c0c0c0"/>
<rect x="278" y="575" width="1" height="38" fill="#c0c0c0"/>
<rect x="282" y="576" width="1" height="37" fill="#c0c0c0"/>
<rect x="286" y="577" width="1" height="36" fill="#c0c0c0"/>
<rect x="290" y="577" width="1" height="36" fill="#c0c0c0"/>
<rect x="294" y="576" width="1" height="37" fill="#c0c0c0"/>
<rect x="298" y="578" width="1" height="35" fill="#c0c0c0"/>
<rect x="302" y="579" width="1" height="34" fill="#c0c0c0"/>
<rect x="306" y="577" width="1" height="36" fill="#c0c0c0"/>
<rect x="310" y="575" width="1" height="38" fill="#c0c0c0"/>
<rect x="314" y="572" width="1" height="41" fill="#c0c0c0"/>
<rect x="318" y="573" width="1" height="40" fill="#c0c0c0"/>
<rect x="322" y="573" width="1" height="40" fill="#c0c0c0"/>
<rect x="326" y="575" width="1" height="38" fill="#c0c0c0"/>
<rect x="330" y="576" width="1" height="37" fill="#c0c0c0"/>
<rect x="334" y="578" width="1" height="35" fill="#c0c0c0"/>
<rect x="338" y="581" width="1" height="32" fill="#c0c0c0"/>
<rect x="342" y="580" width="1" height="33" fill="#c0c0c0"/>
<rect x="346" y="581" width="1" height="32" fill="#c0c0c0"/>
<rect x="350" y="581" width="1" height="32" fill="#c0c0c0"/>
<rect x="354" y="579" width="1" height="34" fill="#c0c0c0"/>
<rect x="358" y="581" width="1" height="32" fill="#c0c0c0"/>
<rect x="362" y="582" width="1" height="31" fill="#c0c0c0"/>
<rect x="366" y="583" width="1" height="30" fill="#c0c0c0"/>
<rect x="370" y="589" width="1" height="24" fill="#c0c0c0"/>
<rect x="374" y="593" width="1" height="20" fill="#c0c0c0"/>
<rect x="378" y="601" width="1" height="12" fill="#c0c0c0"/>
<rect x="382" y="606" width="1" height="7" fill="#c0c0c0"/>
<rect x="386" y="610" width="1" height="3" fill="#c0c0c0"/>
<rect x="394" y="612" width="1" height="2" fill="#c0c0c0"/>
<rect x="398" y="612" width="1" height="3" fill="#c0c0c0"/>
<rect x="402" y="612" width="1" height="3" fill="#c0c0c0"/>
<rect x="406" y="612" width="1" height="3" fill="#c0c0c0"/>
<rect x="410" y="612" width="1" height="6" fill="#c0c0c0"/>
<rect x="414" y="612" width="1" height="6" fill="#c0c0c0"/>
<rect x="418" y="612" width="1" height="5" fill="#c0c0c0"/>
<rect x="422" y="612" width="1" height="4" fill="#c0c0c0"/>
<rect x="426" y="612" width="1" height="4" fill="#c0c0c0"/>
<rect x="430" y="612" width="1" height="4" fill="#c0c0c0"/>
<rect x="434" y="612" width="1" height="4" fill="#c0c0c0"/>
<rect x="438" y="612" width="1" height="7" fill="#c0c0c0"/>
<rect x="442" y="612" width="1" height="11" fill="#c0c0c0"/>
<rect x="446" y="612" width="1" height="14" fill="#c0c0c0"/>
<rect x="450" y="612" width="1" height="16" fill="#c0c0c0"/>
<rect x="454" y="612" width="1" height="15" fill="#c0c0c0"/>
<rect x="458" y="612" width="1" height="15" fill="#c0c0c0"/>
<rect x="462" y="612" width="1" height="14" fill="#c0c0c0"/>
<rect x="466" y="612" width="1" height="10" fill="#c0c0c0"/>
<rect x="470" y="612" width="1" height="8" fill="#c0c0c0"/>
<rect x="474" y="612" width="1" height="9" fill="#c0c0c0"/>
<rect x="478" y="612" width="1" height="9" fill="#c0c0c0"/>
<rect x="482" y="612" width="1" height="9" fill="#c0c0c0"/>
<rect x="486" y="612" width="1" height="12" fill="#c0c0c0"/>
<rect x="490" y="612" width="1" height="10" fill="#c0c0c0"/>
<rect x="494" y="612" width="1" height="10" fill="#c0c0c0"/>
<rect x="498" y="612" width="1" height="13" fill="#c0c0c0"/>
<rect x="502" y="612" width="1" height="16" fill="#c0c0c0"/>
<rect x="506" y="612" width="1" height="13" fill="#c0c0c0"/>
<rect x="510" y="612" width="1" height="15" fill="#c0c0c0"/>
<rect x="514" y="612" width="1" height="17" fill="#c0c0c0"/>
<rect x="518" y="612" width="1" height="20" fill="#c0c0c0"/>
<rect x="522" y="612" width="1" height="23" fill="#c0c0c0"/>
<rect x="526" y="612" width="1" height="25" fill="#c0c0c0"/>
<rect x="530" y="612" width="1" height="22" fill="#c0c0c0"/>
<rect x="534" y="612" width="1" height="20" fill="#c0c0c0"/>
<rect x="538" y="612" width="1" height="20" fill="#c0c0c0"/>
<rect x="542" y="612" width="1" height="19" fill="#c0c0c0"/>
<rect x="546" y="612" width="1" height="22" fill="#c0c0c0"/>
<rect x="550" y="612" width="1" height="24" fill="#c0c0c0"/>
<rect x="554" y="612" width="1" height="29" fill="#c0c0c0"/>
<rect x="558" y="612" width="1" height="26" fill="#c0c0c0"/>
<rect x="562" y="612" width="1" height="24" fill="#c0c0c0"/>
<rect x="566" y="612" width="1" height="22" fill="#c0c0c0"/>
<rect x="570" y="612" width="1" height="22" fill="#c0c0c0"/>
<rect x="574" y="612" width="1" height="18" fill="#c0c0c0"/>
<rect x="578" y="612" width="1" height="13" fill="#c0c0c0"/>
<rect x="582" y="612" width="1" height="7" fill="#c0c0c0"/>
<rect x="590" y="608" width="1" height="5" fill="#c0c0c0"/>
<rect x="594" y="604" width="1" height="9" fill="#c0c0c0"/>
<rect x="598" y="600" width="1" height="13" fill="#c0c0c0"/>
<rect x="602" y="599" width="1" height="14" fill="#c0c0c0"/>
<rect x="606" y="598" width="1" height="15" fill="#c0c0c0"/>
<rect x="610" y="599" width="1" height="14" fill="#c0c0c0"/>
<rect x="614" y="600" width="1" height="13" fill="#c0c0c0"/>
<rect x="618" y="601" width="1" height="12" fill="#c0c0c0"/>
<rect x="622" y="601" width="1" height="12" fill="#c0c0c0"/>
<rect x="626" y="601" width="1" height="12" fill="#c0c0c0"/>
<rect x="630" y="601" width="1" height="12" fill="#c0c0c0"/>
<rect x="634" y="601" width="1" height="12" fill="#c0c0c0"/>
<rect x="638" y="600" width="1" height="13" fill="#c0c0c0"/>
<rect x="642" y="599" width="1" height="14" fill="#c0c0c0"/>
<rect x="646" y="597" width="1" height="16" fill="#c0c0c0"/>
<rect x="650" y="594" width="1" height="19" fill="#c0c0c0"/>
<rect x="654" y="592" width="1" height="21" fill="#c0c0c0"/>
<rect x="658" y="592" width="1" height="21" fill="#c0c0c0"/>
<rect x="662" y="592" width="1" height="21" fill="#c0c0c0"/>
<rect x="666" y="590" width="1" height="23" fill="#c0c0c0"/>
<rect x="670" y="588" width="1" height="25" fill="#c0c0c0"/>
<rect x="674" y="584" width="1" height="29" fill="#c0c0c0"/>
<rect x="678" y="584" width="1" height="29" fill="#c0c0c0"/>
<rect x="682" y="585" width="1" height="28" fill="#c0c0c0"/>
<rect x="686" y="585" width="1" height="28" fill="#c0c0c0"/>
<rect x="690" y="586" width="1" height="27" fill="#c0c0c0"/>
<rect x="694" y="589" width="1" height="24" fill="#c0c0c0"/>
<rect x="698" y="593" width="1" height="20" fill="#c0c0c0"/>
<rect x="702" y="595" width="1" height="18" fill="#c0c0c0"/>
<rect x="706" y="597" width="1" height="16" fill="#c0c0c0"/>
<rect x="710" y="600" width="1" height="13" fill="#c0c0c0"/>
<rect x="714" y="602" width="1" height="11" fill="#c0c0c0"/>
<rect x="718" y="603" width="1" height="10" fill="#c0c0c0"/>
<rect x="722" y="604" width="1" height="9" fill="#c0c0c0"/>
<rect x="726" y="607" width="1" height="6" fill="#c0c0c0"/>
<rect x="730" y="608" width="1" height="5" fill="#c0c0c0"/>
<rect x="734" y="609" width="1" height="4" fill="#c0c0c0"/>
<rect x="738" y="610" width="1" height="3" fill="#c0c0c0"/>
<rect x="742" y="608" width="1" height="5" fill="#c0c0c0"/>
<rect x="746" y="606" width="1" height="7" fill="#c0c0c0"/>
<rect x="750" y="601" width="1" height="12" fill="#c0c0c0"/>
<rect x="754" y="599" width="1" height="14" fill="#c0c0c0"/>
<rect x="758" y="597" width="1" height="16" fill="#c0c0c0"/>
<rect x="762" y="595" width="1" height="18" fill="#c0c0c0"/>
<rect x="766" y="595" width="1" height="18" fill="#c0c0c0"/>
<rect x="770" y="597" width="1" height="16" fill="#c0c0c0"/>
<rect x="774" y="599" width="1" height="14" fill="#c0c0c0"/>
<rect x="778" y="602" width="1" height="11" fill="#c0c0c0"/>
<rect x="782" y="604" width="1" height="9" fill="#c0c0c0"/>
<rect x="786" y="606" width="1" height="7" fill="#c0c0c0"/>
<rect x="790" y="610" width="1" height="3" fill="#c0c0c0"/>
<rect x="794" y="612" width="1" height="5" fill="#c0c0c0"/>
<rect x="798" y="612" width="1" height="10" fill="#c0c0c0"/>
<rect x="802" y="612" width="1" height="12" fill="#c0c0c0"/>
<rect x="806" y="612" width="1" height="14" fill="#c0c0c0"/>
<rect x="810" y="612" width="1" height="17" fill="#c0c0c0"/>
<rect x="814" y="612" width="1" height="18" fill="#c0c0c0"/>
<rect x="818" y="612" width="1" height="17" fill="#c0c0c0"/>
<rect x="822" y="612" width="1" height="17" fill="#c0c0c0"/>
<rect x="826" y="612" width="1" height="16" fill="#c0c0c0"/>
<rect x="830" y="612" width="1" height="15" fill="#c0c0c0"/>
<rect x="834" y="612" width="1" height="12" fill="#c0c0c0"/>
<rect x="838" y="612" width="1" height="11" fill="#c0c0c0"/>
<rect x="842" y="612" width="1" height="10" fill="#c0c0c0"/>
<rect x="846" y="612" width="1" height="7" fill="#c0c0c0"/>
<rect x="850" y="612" width="1" height="5" fill="#c0c0c0"/>
<rect x="854" y="612" width="1" height="4" fill="#c0c0c0"/>
<rect x="858" y="612" width="1" height="3" fill="#c0c0c0"/>
<rect x="862" y="612" width="1" height="2" fill="#c0c0c0"/>
<rect x="866" y="611" width="1" height="2" fill="#c0c0c0"/>
<rect x="870" y="609" width="1" height="4" fill="#c0c0c0"/>
<rect x="874" y="608" width="1" height="5" fill="#c0c0c0"/>
<rect x="878" y="607" width="1" height="6" fill="#c0c0c0"/>
<rect x="882" y="605" width="1" height="8" fill="#c0c0c0"/>
<rect x="886" y="602" width="1" height="11" fill="#c0c0c0"/>
<rect x="890" y="598" width="1" height="15" fill="#c0c0c0"/>
<rect x="894" y="592" width="1" height="21" fill="#c0c0c0"/>
<rect x="898" y="588" width="1" height="25" fill="#c0c0c0"/>
<rect x="902" y="585" width="1" height="28" fill="#c0c0c0"/>
<rect x="906" y="580" width="1" height="33" fill="#c0c0c0"/>
<rect x="910" y="576" width="1" height="37" fill="#c0c0c0"/>
<rect x="914" y="574" width="1" height="39" fill="#c0c0c0"/>
<rect x="918" y="573" width="1" height="40" fill="#c0c0c0"/>
<rect x="922" y="573" width="1" height="40" fill="#c0c0c0"/>
<rect x="926" y="573" width="1" height="40" fill="#c0c0c0"/>
<rect x="930" y="574" width="1" height="39" fill="#c0c0c0"/>
<rect x="934" y="576" width="1" height="37" fill="#c0c0c0"/>
<rect x="938" y="577" width="1" height="36" fill="#c0c0c0"/>
<rect x="942" y="579" width="1" height="34" fill="#c0c0c0"/>
<rect x="946" y="581" width="1" height="32" fill="#c0c0c0"/>
<rect x="950" y="583" width="1" height="30" fill="#c0c0c0"/>
<rect x="954" y="584" width="1" height="29" fill="#c0c0c0"/>
<rect x="958" y="584" width="1" height="29" fill="#c0c0c0"/>
<rect x="962" y="588" width="1" height="25" fill="#c0c0c0"/>
<rect x="966" y="593" width="1" height="20" fill="#c0c0c0"/>
<rect x="970" y="598" width="1" height="15" fill="#c0c0c0"/>
<rect x="974" y="605" width="1" height="8" fill="#c0c0c0"/>
<rect x="978" y="609" width="1" height="4" fill="#c0c0c0"/>
<rect x="982" y="612" width="1" height="1" fill="#c0c0c0"/>
<rect x="990" y="612" width="1" height="2" fill="#c0c0c0"/>
<rect x="994" y="612" width="1" height="3" fill="#c0c0c0"/>
<rect x="998" y="612" width="1" height="4" fill="#c0c0c0"/>
<rect x="1002" y="612" width="1" height="4" fill="#c0c0c0"/>
<rect x="1006" y="612" width="1" height="5" fill="#c0c0c0"/>
<rect x="1010" y="612" width="1" height="10" fill="#c0c0c0"/>
<rect x="1014" y="612" width="1" height="14" fill="#c0c0c0"/>
<rect x="1018" y="612" width="1" height="17" fill="#c0c0c0"/>
<rect x="1022" y="612" width="1" height="17" fill="#c0c0c0"/>
<rect x="1026" y="612" width="1" height="16" fill="#c0c0c0"/>
<rect x="1030" y="612" width="1" height="14" fill="#c0c0c0"/>
<rect x="1034" y="612" width="1" height="13" fill="#c0c0c0"/>
<rect x="1038" y="612" width="1" height="16" fill="#c0c0c0"/>
<rect x="1042" y="612" width="1" height="19" fill="#c0c0c0"/>
<rect x="1046" y="612" width="1" height="25" fill="#c0c0c0"/>
<rect x="1050" y="612" width="1" height="29" fill="#c0c0c0"/>
<rect x="1054" y="612" width="1" height="32" fill="#c0c0c0"/>
<rect x="1058" y="612" width="1" height="35" fill="#c0c0c0"/>
<rect x="1062" y="612" width="1" height="39" fill="#c0c0c0"/>
<rect x="1066" y="612" width="1" height="40" fill="#c0c0c0"/>
<rect x="1070" y="612" width="1" height="42" fill="#c0c0c0"/>
<rect x="1074" y="612" width="1" height="40" fill="#c0c0c0"/>
<rect x="1078" y="612" width="1" height="37" fill="#c0c0c0"/>
<rect x="1082" y="612" width="1" height="35" fill="#c0c0c0"/>
<rect x="1086" y="612" width="1" height="30" fill="#c0c0c0"/>
<rect x="1090" y="612" width="1" height="25" fill="#c0c0c0"/>
<rect x="1094" y="612" width="1" height="22" fill="#c0c0c0"/>
<rect x="1098" y="612" width="1" height="17" fill="#c0c0c0"/>
<rect x="1102" y="612" width="1" height="19" fill="#c0c0c0"/>
<rect x="1106" y="612" width="1" height="26" fill="#c0c0c0"/>
<rect x="1110" y="612" width="1" height="34" fill="#c0c0c0"/>
<rect x="1114" y="612" width="1" height="41" fill="#c0c0c0"/>
<rect x="1118" y="612" width="1" height="48" fill="#c0c0c0"/>
<rect x="1122" y="612" width="1" height="51" fill="#c0c0c0"/>
<rect x="1126" y="612" width="1" height="51" fill="#c0c0c0"/>
<rect x="1130" y="612" width="1" height="50" fill="#c0c0c0"/>
<path d="M6 613.5h3M12 613.5h3M18 613.5h3M24 613.5h3M30 613.5h3M36 613.5h3M42 613.5h3M48 613.5h3M54 613.5h3M60 613.5h3M66 613.5h3M72 614.5h1M73 615.5h2M78 617.5h2M80 618.5h1M84 620.5h2M86 621.5h1M90 624.5h1M91 625.5h2M96 629.5h1M97 630.5h1M98 631.5h1M102 635.5h1M103 636.5h1M104 637.5h1M108 641.5h1M109 642.5h1M110 643.5h1M114 647.5h1M115 648.5h2M120 651.5h1M121 652.5h1M122 653.5h1M126 655.5h2M128 656.5h1M132 658.5h2M134 659.5h1M138 659.5h3M144 658.5h1M145 657.5h2M150 656.5h3M156 655.5h1M157 654.5h2M162 653.5h3M168 652.5h1M169 651.5h2M174 650.5h3M180 651.5h3M186 651.5h3M192 651.5h3M198 649.5h1M199 648.5h2M204 645.5h1M205 644.5h1M206 643.5h1M209 639.5h1M210 638.5h1M211 637.5h1M213 633.5h1M214 632.5h1M215 631.5h1M217 627.5h1M218.5 625v2M220 621.5h1M221.5 619v2M224.5 614v2M225 613.5h1M227 609.5h1M228.5 607v2M231.5 602v2M232 601.5h1M234 597.5h1M235.5 595v2M238 591.5h1M239 590.5h1M240 589.5h1M243 585.5h1M244 584.5h1M245 583.5h1M249 580.5h1M250 579.5h2M255 577.5h2M257 576.5h1M261 576.5h3M267 576.5h3M273 577.5h3M279 577.5h3M285 577.5h3M291 577.5h3M297 577.5h3M303 577.5h3M309 577.5h3M315 576.5h3M321 576.5h3M327 575.5h3M333 575.5h3M339 576.5h3M345 577.5h3M351 578.5h3M357 579.5h3M363 580.5h2M365 581.5h1M369 582.5h3M375 584.5h2M377 585.5h1M381 587.5h1M382 588.5h1M383 589.5h1M387 593.5h2M389 594.5h1M393 598.5h1M394 599.5h1M395 600.5h1M399 604.5h2M401 605.5h1M405 608.5h1M406 609.5h1M407 610.5h1M411 612.5h1M412 613.5h2M417 615.5h3M423 616.5h3M429 616.5h3M435 616.5h2M437 617.5h1M441 618.5h3M447 618.5h1M448 619.5h2M453 621.5h3M459 622.5h2M461 623.5h1M465 624.5h3M471 624.5h3M477 624.5h3M483 624.5h2M485 623.5h1M489 623.5h3M495 622.5h3M501 623.5h3M507 623.5h2M509 624.5h1M513 625.5h3M519 626.5h2M521 627.5h1M525 628.5h1M526 629.5h2M531 630.5h2M533 631.5h1M537 631.5h3M543 632.5h2M545 633.5h1M549 634.5h3M555 635.5h3M561 635.5h3M567 635.5h3M573 635.5h3M579 634.5h1M580 633.5h2M585 631.5h1M586 630.5h1M587 629.5h1M591 625.5h1M592 624.5h1M593 623.5h1M597 619.5h1M598 618.5h1M599 617.5h1M603 614.5h1M604 613.5h1M605 612.5h1M609 608.5h1M610 607.5h2M615 605.5h1M616 604.5h2M621 602.5h1M622 601.5h2M627 600.5h3M633 600.5h3M639 600.5h3M645 600.5h3M651 599.5h2M653 598.5h1M657 597.5h3M663 596.5h2M665 595.5h1M669 594.5h3M675 592.5h1M676 591.5h2M681 589.5h3M687 588.5h2M689 587.5h1M693 587.5h3M699 587.5h2M701 588.5h1M705 589.5h3M711 591.5h2M713 592.5h1M717 594.5h1M718 595.5h2M723 597.5h1M724 598.5h2M729 600.5h1M730 601.5h2M735 603.5h1M736 604.5h2M741 606.5h3M747 606.5h3M753 606.5h3M759 605.5h2M761 604.5h1M765 603.5h1M766 602.5h2M771 601.5h2M773 600.5h1M777 599.5h3M783 599.5h3M789 600.5h1M790 601.5h2M795 604.5h2M797 605.5h1M801 608.5h1M802 609.5h1M803 610.5h1M807 613.5h1M808 614.5h1M809 615.5h1M813 618.5h1M814 619.5h1M815 620.5h1M819 622.5h1M820 623.5h2M825 625.5h1M826 626.5h2M831 627.5h3M837 627.5h3M843 627.5h2M845 626.5h1M849 625.5h1M850 624.5h2M855 623.5h1M856 622.5h2M861 620.5h3M867 618.5h1M868 617.5h2M873 615.5h1M874 614.5h2M879 613.5h1M880 612.5h2M885 610.5h3M891 607.5h2M893 606.5h1M897 603.5h1M898 602.5h1M899 601.5h1M903 598.5h2M905 597.5h1M909 594.5h1M910 593.5h1M911 592.5h1M915 588.5h1M916 587.5h1M917 586.5h1M921 583.5h1M922 582.5h1M923 581.5h1M927 579.5h1M928 578.5h2M933 576.5h3M939 575.5h3M945 575.5h3M951 577.5h2M953 578.5h1M957 579.5h3M963 581.5h1M964 582.5h2M969 584.5h1M970 585.5h1M971 586.5h1M975 589.5h1M976 590.5h1M977 591.5h1M981 594.5h1M982 595.5h1M983 596.5h1M987 599.5h1M988 600.5h1M989 601.5h1M993 604.5h1M994 605.5h1M995 606.5h1M999 609.5h2M1001 610.5h1M1005 612.5h1M1006 613.5h2M1011 615.5h1M1012 616.5h2M1017 618.5h1M1018 619.5h2M1023 620.5h1M1024 621.5h2M1029 623.5h3M1035 624.5h1M1036 625.5h2M1041 627.5h3M1047 629.5h1M1048 630.5h2M1053 632.5h3M1059 635.5h2M1061 636.5h1M1065 639.5h1M1066 640.5h1M1067 641.5h1M1071 643.5h1M1072 644.5h2M1077 646.5h1M1078 647.5h2M1083 649.5h3M1089 648.5h3M1095 646.5h1M1096 645.5h2M1101 643.5h1M1102 642.5h2M1107 640.5h2M1109 639.5h1M1113 640.5h3M1119 642.5h2M1121 643.5h1M1125 645.5h1M1126 646.5h1M1127 647.5h1" fill="none" stroke="#ff0000" stroke-width="1"/>
<path d="M6 733.5h1M7 734.5h2M9 735.5h1M10 736.5h3M13 735.5h2M15 734.5h1M16 733.5h1M17 732.5h1M18 731.5h1M19 732.5h2M21 733.5h1M22 734.5h1M23 735.5h1M24 736.5h1M25 737.5h1M26 738.5h2M28 737.5h2M30 736.5h2M32 735.5h2M34 734.5h3M37 735.5h2M39 736.5h2M41 737.5h1M42 738.5h2M44 737.5h2M46 736.5h2M48 737.5h2M50.5 737v2M51.5 735v2M52.5 732v3M53.5 730v2M54.5 728v2M55 729.5h1M56.5 730v2M57 732.5h1M58 733.5h5M62 734.5h1M63.5 735v3M64.5 738v3M65.5 741v3M66.5 744v3M67.5 747v2M68.5 749v3M69.5 752v2M70.5 754v2M71 755.5h1M72 756.5h2M74.5 756v2M75.5 754v2M76.5 752v2M77.5 750v2M78.5 748v2M79 749.5h1M80.5 750v2M81 752.5h1M82 753.5h3M85 754.5h2M87 755.5h1M88.5 756v2M89 758.5h1M90 759.5h1M91 760.5h2M93 761.5h1M94 762.5h1M95.5 763v2M96 765.5h1M97.5 766v2M98 768.5h2M100 769.5h2M102 770.5h1M103 769.5h2M105 768.5h1M106 767.5h7M113 768.5h2M114 767.5h1M115.5 763v4M116.5 759v4M117.5 755v4M118.5 753v2M119 754.5h1M120 755.5h1M121 756.5h1M122 757.5h1M123.5 758v2M124.5 760v2M125.5 762v2M126.5 763v2M127.5 761v2M128.5 759v2M129.5 757v2M130.5 755v2M131 755.5h4M134 754.5h1M135.5 751v3M136.5 747v4M137.5 744v3M138.5 742v2M139 743.5h2M141 744.5h1M142 745.5h1M143 746.5h2M145 747.5h1M146 748.5h1M147.5 749v2M148 751.5h1M149.5 752v2M150 754.5h2M152 753.5h2M154 752.5h5M159.5 753v2M160 755.5h1M161.5 756v2M162 758.5h1M163 757.5h2M165 756.5h1M166.5 754v2M167.5 752v2M168.5 750v2M169.5 748v2M170.5 746v2M170 747.5h1M171.5 748v3M172.5 751v2M173.5 753v3M174.5 756v2M175 757.5h8M182 756.5h1M183.5 753v3M184.5 749v4M185.5 746v3M186.5 744v2M187 744.5h2M189 743.5h6M194.5 741v2M195.5 736v5M196.5 732v4M197.5 727v5M198.5 724v3M199 723.5h2M201 722.5h1M202 721.5h2M204 720.5h2M206 719.5h1M207 718.5h2M209 717.5h1M210 716.5h5M214 715.5h1M215.5 713v2M216.5 711v2M217.5 709v2M218 708.5h2M220 709.5h2M222 710.5h10M232 709.5h2M234 708.5h2M236 709.5h2M238.5 710v2M239.5 712v2M240.5 714v2M241.5 716v2M242.5 718v2M243 719.5h1M244 718.5h2M246 717.5h3M249 716.5h6M254 717.5h1M255.5 718v2M256.5 720v3M257.5 723v2M258.5 725v2M259.5 724v2M260 723.5h1M261.5 721v2M262 720.5h1M263.5 718v2M264 717.5h1M265.5 715v2M266 714.5h2M268 713.5h2M270 712.5h3M273 711.5h3M276 712.5h2M278 713.5h3M281 714.5h2M283 715.5h1M284 716.5h1M285 717.5h1M286 718.5h1M287 717.5h1M288 716.5h1M289 715.5h1M290 714.5h1M291 713.5h1M292 712.5h1M293 711.5h1M294.5 710v2M295.5 712v2M296.5 714v2M297.5 716v2M298 718.5h3M301 717.5h2M303.5 715v2M304 714.5h1M305.5 712v2M306 711.5h1M307 710.5h1M308 709.5h1M309 708.5h1M310 707.5h1M311 706.5h2M313 705.5h1M314.5 704v3M315.5 707v4M316.5 711v4M317.5 715v4M318.5 719v2M319 719.5h1M320 718.5h1M321 717.5h1M322 716.5h1M323.5 717v2M324 719.5h1M325.5 720v2M326 722.5h1M327 721.5h2M329 720.5h1M330 719.5h1M331.5 720v2M332.5 722v2M333.5 724v2M334 726.5h3M337 725.5h2M339.5 723v2M340 722.5h1M341.5 720v2M342 719.5h3M345 720.5h4M349 719.5h2M351.5 717v2M352 716.5h1M353.5 714v2M354.5 713v2M355.5 715v3M356.5 718v2M357.5 720v3M358.5 723v2M359 724.5h2M361 723.5h4M365 722.5h2M366 723.5h1M367.5 724v4M368.5 728v4M369.5 732v4M370.5 736v2M371 737.5h4M374 738.5h1M375.5 739v2M376.5 741v3M377.5 744v2M378.5 746v2M379 746.5h2M381 745.5h1M382 744.5h3M385 745.5h4M389 744.5h2M391.5 742v2M392 741.5h1M393.5 739v2M394 738.5h6M400 737.5h2M402 736.5h3M405 735.5h2M406 736.5h1M407.5 737v3M408.5 740v2M409.5 742v3M410.5 745v2M411.5 744v2M412.5 742v2M413.5 740v2M414 739.5h1M415.5 737v2M416.5 735v2M417.5 733v2M418 732.5h1M419 733.5h2M421 734.5h1M422 735.5h3M425 736.5h4M429 737.5h4M433 738.5h2M434 739.5h1M435.5 740v2M436.5 742v2M437.5 744v2M438 746.5h1M439.5 747v2M440 749.5h1M441.5 750v2M442 752.5h3M445 751.5h6M450 750.5h1M451.5 748v2M452.5 745v3M453.5 743v2M454.5 741v2M455 741.5h2M457 742.5h3M460 741.5h2M462.5 739v2M463.5 737v2M464.5 734v3M465.5 732v2M466.5 730v2M467 730.5h4M470 731.5h1M471.5 732v3M472.5 735v3M473.5 738v3M474.5 741v2M475 742.5h4M479 741.5h1M480 740.5h1M481 739.5h1M482.5 738v2M483.5 740v3M484.5 743v4M485.5 747v3M486.5 750v2M486.5 749v2M487.5 745v4M488.5 741v4M489.5 737v4M490.5 735v2M491 735.5h1M492 736.5h2M494.5 737v2M495.5 739v3M496.5 742v2M497.5 744v3M498.5 747v2M499 748.5h2M501 747.5h2M502 746.5h1M503.5 743v3M504.5 739v4M505.5 736v3M506.5 734v2M506 735.5h1M507.5 736v2M508.5 738v2M509.5 740v2M510.5 742v2M511 743.5h1M512 744.5h2M514 745.5h2M516 746.5h2M518 747.5h1M519 748.5h2M521 749.5h1M522 750.5h3M525 749.5h2M526 748.5h1M527.5 745v3M528.5 742v3M529.5 739v3M530.5 737v2M531 737.5h1M532 738.5h2M534 739.5h2M536 740.5h2M538 741.5h3M541 742.5h2M542 743.5h1M543.5 744v2M544.5 746v2M545.5 748v2M546 750.5h1M547 749.5h2M549 748.5h1M550.5 747v2M551.5 749v2M552.5 751v2M553.5 753v2M554.5 753v3M555.5 749v4M556.5 745v4M557.5 741v4M558.5 739v2M559 739.5h2M561 738.5h4M565 739.5h2M567 740.5h1M568 741.5h1M569 742.5h1M570.5 742v2M571.5 740v2M572.5 738v2M573.5 736v2M574.5 734v2M575 733.5h1M576 732.5h1M577 731.5h1M578 730.5h1M579 729.5h1M580 728.5h1M581 727.5h1M582 726.5h2M584 725.5h2M586 724.5h5M591 723.5h2M593 722.5h1M594 721.5h3M597 722.5h2M599 723.5h1M600.5 724v2M601 726.5h1M602 727.5h3M605 726.5h2M607 727.5h1M608.5 728v2M609 730.5h1M610 731.5h6M616 732.5h2M618 733.5h1M619.5 731v2M620 730.5h1M621.5 728v2M622 727.5h2M624 728.5h2M626 729.5h6M632 728.5h2M634 727.5h3M637 726.5h2M639 725.5h1M640.5 723v2M641 722.5h1M642 721.5h1M643 720.5h2M645 719.5h1M646 718.5h1M647 717.5h1M648 716.5h1M649 715.5h1M650 714.5h5M654 715.5h1M655.5 716v2M656.5 718v2M657.5 720v2M658 722.5h3M661 723.5h2M662 722.5h1M663.5 720v2M664.5 718v2M665.5 716v2M666 715.5h1M667 714.5h2M669 713.5h1M670 712.5h1M671 711.5h1M672 710.5h1M673 709.5h1M674.5 708v2M675.5 710v3M676.5 713v2M677.5 715v3M678.5 718v2M679 719.5h2M681 720.5h10M690 721.5h1M691.5 722v2M692.5 724v3M693.5 727v2M694.5 729v2M695 731.5h2M697 732.5h1M698 733.5h2M700 732.5h2M702 731.5h1M703 732.5h2M705 733.5h1M706 734.5h7M713 733.5h3M716 734.5h2M718 735.5h1M719 734.5h2M721 733.5h1M722.5 732v2M723.5 734v2M724.5 736v3M725.5 739v2M726.5 741v2M727.5 740v2M728.5 738v2M729.5 736v2M730 735.5h2M732 736.5h2M734 737.5h3M737 736.5h2M738 735.5h1M739.5 731v4M740.5 728v3M741.5 724v4M742.5 722v2M743 722.5h2M745 723.5h2M746 722.5h1M747.5 719v3M748.5 715v4M749.5 712v3M750.5 710v2M750 711.5h1M751.5 712v3M752.5 715v3M753.5 718v3M754.5 721v2M755 722.5h1M756 721.5h2M758 720.5h1M759 719.5h1M760 718.5h1M761 717.5h1M762.5 716v2M763.5 718v2M764.5 720v2M765.5 722v2M766.5 724v2M767.5 726v2M768.5 728v2M769.5 730v2M770.5 732v2M771 733.5h4M775 734.5h2M777 735.5h1M778 736.5h5M783 737.5h2M785 738.5h1M786 739.5h1M787.5 740v2M788 742.5h1M789.5 743v2M790.5 745v2M791.5 747v3M792.5 750v3M793.5 753v3M794.5 756v2M795 757.5h1M796 756.5h2M798 755.5h1M799.5 753v2M800.5 751v2M801.5 749v2M802 748.5h3M805 749.5h2M807 750.5h2M809 751.5h1M810 752.5h1M811 751.5h1M812.5 749v2M813 748.5h1M814 747.5h2M816 746.5h2M818 745.5h3M821 744.5h2M823 743.5h2M825 742.5h1M826 741.5h2M828 742.5h2M830.5 742v2M831.5 739v3M832.5 737v2M833.5 734v3M834.5 732v2M835 733.5h2M837 734.5h1M838 735.5h2M840 736.5h2M842 737.5h1M843.5 735v2M844.5 733v2M845.5 731v2M846 730.5h3M849 731.5h4M853 730.5h2M855 731.5h2M857 732.5h1M858 733.5h2M860 732.5h2M862 731.5h1M863.5 729v2M864.5 727v2M865.5 725v2M866 724.5h3M869 723.5h4M873 724.5h6M879 723.5h1M880 722.5h1M881 721.5h1M882.5 719v2M883.5 717v2M884.5 715v2M885.5 713v2M886 712.5h1M887.5 710v2M888 709.5h1M889.5 707v2M890 706.5h1M891.5 704v2M892 703.5h1M893.5 701v2M894 700.5h1M895 701.5h1M896 702.5h1M897 703.5h1M898 704.5h2M900 703.5h2M902 702.5h1M903 701.5h1M904.5 699v2M905 698.5h1M906 697.5h3M909 696.5h3M912 697.5h2M914 698.5h1M915 699.5h1M916.5 700v2M917 702.5h1M918 703.5h3M921 702.5h7M928 703.5h2M930.5 704v2M931.5 706v2M932.5 708v2M933.5 710v2M934 712.5h1M935 711.5h1M936 710.5h1M937 709.5h1M938 708.5h1M939.5 709v2M940.5 711v2M941.5 713v2M942 715.5h1M943 716.5h1M944.5 717v2M945 719.5h1M946 720.5h2M948 719.5h2M950 718.5h1M951 717.5h1M952.5 715v2M953 714.5h1M954 713.5h2M956 712.5h2M958.5 711v3M959.5 714v5M960.5 719v4M961.5 723v5M962.5 728v4M963.5 732v2M964.5 734v2M965.5 736v2M966 738.5h1M967 739.5h1M968.5 740v2M969 742.5h1M970.5 743v2M971.5 745v2M972.5 747v3M973.5 750v2M974.5 752v2M974 752.5h1M975.5 750v2M976.5 748v2M977.5 746v2M978.5 744v2M979 744.5h2M981 745.5h2M983 744.5h1M984.5 742v2M985 741.5h1M986 740.5h1M987 739.5h2M989 738.5h1M990 737.5h3M993 738.5h2M995 739.5h1M996.5 740v2M997 742.5h1M998 743.5h1M999.5 741v2M1000.5 739v2M1001.5 737v2M1002 736.5h1M1003 737.5h1M1004.5 738v2M1005 740.5h1M1006.5 741v2M1007.5 743v3M1008.5 746v3M1009.5 749v3M1010.5 752v2M1011 753.5h1M1012 754.5h2M1014 755.5h2M1016 754.5h2M1018 753.5h1M1019.5 751v2M1020 750.5h1M1021.5 748v2M1022 747.5h1M1023.5 745v2M1024.5 743v2M1025.5 741v2M1026 740.5h1M1027 739.5h1M1028 738.5h1M1029 737.5h1M1030 736.5h1M1031 737.5h1M1032 738.5h1M1033 739.5h1M1034.5 740v2M1035.5 742v3M1036.5 745v2M1037.5 747v3M1038.5 750v2M1039 751.5h1M1040 752.5h2M1042.5 753v2M1043.5 755v2M1044.5 757v2M1045.5 759v2M1046 761.5h3M1049 762.5h2M1051 761.5h1M1052.5 759v2M1053 758.5h1M1054 757.5h1M1055 758.5h2M1057 759.5h1M1058 760.5h1M1059 761.5h1M1060.5 762v2M1061 764.5h1M1062.5 764v2M1063.5 762v2M1064.5 760v2M1065.5 758v2M1066.5 756v2M1067 756.5h2M1069 757.5h2M1071.5 755v2M1072.5 753v2M1073.5 751v2M1074 750.5h1M1075.5 748v2M1076 747.5h1M1077.5 745v2M1078 744.5h1M1079 745.5h2M1081 746.5h1M1082.5 746v2M1083.5 743v3M1084.5 740v3M1085.5 737v3M1086.5 735v2M1087 735.5h2M1089 736.5h6M1095 735.5h1M1096 734.5h1M1097 733.5h1M1098.5 732v2M1099.5 734v4M1100.5 738v3M1101.5 741v4M1102.5 745v3M1103.5 748v3M1104.5 751v4M1105.5 755v3M1106.5 758v2M1107 760.5h2M1109 761.5h1M1110 762.5h3M1113 763.5h2M1115 764.5h2M1117 765.5h1M1118 766.5h1M1119.5 764v2M1120 763.5h1M1121.5 761v2M1122 760.5h1M1123 759.5h1M1124.5 757v2M1125 756.5h1M1126 755.5h1M1127 754.5h2M1129 753.5h1M1130 752.5h1" fill="none" stroke="#1e90ff" stroke-width="1"/>
<rect x="6" y="428" width="1414" height="1" fill="#000"/>
<rect x="5" y="24" width="1417" height="1" fill="#000"/>
<rect x="5" y="563" width="1417" height="1" fill="#000"/>
<rect x="5" y="24" width="1" height="540" fill="#000"/>
<rect x="5" y="565" width="1417" height="1" fill="#000"/>
<rect x="5" y="668" width="1417" height="1" fill="#000"/>
<rect x="5" y="565" width="1" height="104" fill="#000"/>
<rect x="5" y="670" width="1417" height="1" fill="#000"/>
<rect x="5" y="800" width="1417" height="1" fill="#000"/>
<rect x="5" y="670" width="1" height="131" fill="#000"/>
<rect x="1420" y="24" width="2" height="780" fill="#000"/>
</svg>
<div class="d" style="left:9px;top:31px;width:0;height:0;border-left:4px solid transparent;border-right:4px solid transparent;border-top:4px solid #000"></div>
<div class="t " id="t5" style="left:21px;top:28px;transform:scaleX(0.9714);">USDCHF-,Daily</div>
<div class="t " id="t6" style="left:95px;top:28px;transform:scaleX(0.9219);">0.97745 0.97926 0.97742 0.97908</div>
<div class="t " id="t7" style="left:10.4px;top:570px;transform:scaleX(0.9291);">MACD(12,26,9) -0.006747 -0.005024</div>
<div class="t " id="t8" style="left:10.4px;top:675px;transform:scaleX(0.9170);">RSI(14) 36.4832</div>
<div class="t " id="t9" style="left:1427px;top:28px;transform:scaleX(0.9265);">1.02630</div>
<div class="t " id="t10" style="left:1427px;top:61px;transform:scaleX(0.9265);">1.02170</div>
<div class="t " id="t11" style="left:1427px;top:94px;transform:scaleX(0.9265);">1.01710</div>
<div class="t " id="t12" style="left:1427px;top:127px;transform:scaleX(0.9265);">1.01250</div>
<div class="t " id="t13" style="left:1427px;top:160px;transform:scaleX(0.9265);">1.00790</div>
<div class="t " id="t14" style="left:1427px;top:193px;transform:scaleX(0.9265);">1.00330</div>
<div class="t " id="t15" style="left:1427px;top:226px;transform:scaleX(0.9265);">0.99870</div>
<div class="t " id="t16" style="left:1427px;top:259px;transform:scaleX(0.9265);">0.99410</div>
<div class="t " id="t17" style="left:1427px;top:292px;transform:scaleX(0.9265);">0.98950</div>
<div class="t " id="t18" style="left:1427px;top:325px;transform:scaleX(0.9265);">0.98480</div>
<div class="t " id="t19" style="left:1427px;top:358px;transform:scaleX(0.9265);">0.98020</div>
<div class="t " id="t20" style="left:1427px;top:391px;transform:scaleX(0.9265);">0.97560</div>
<div class="t " id="t21" style="left:1427px;top:457px;transform:scaleX(0.9265);">0.96640</div>
<div class="t " id="t22" style="left:1427px;top:490px;transform:scaleX(0.9265);">0.96180</div>
<div class="t " id="t23" style="left:1427px;top:523px;transform:scaleX(0.9265);">0.95720</div>
<div class="t " id="t24" style="left:1427px;top:556px;transform:scaleX(0.9265);">0.95260</div>
<div class="t " id="t25" style="left:1424.6px;top:568px;transform:scaleX(0.9061);">0.006282</div>
<div class="t " id="t26" style="left:1424.6px;top:608px;transform:scaleX(0.9143);">0.00</div>
<div class="t " id="t27" style="left:1425.5px;top:657px;transform:scaleX(0.9102);">-0.007542</div>
<div class="t " id="t28" style="left:1424px;top:673px;transform:scaleX(0.8749);">100</div>
<div class="t " id="t29" style="left:1424px;top:706px;transform:scaleX(0.8809);">70</div>
<div class="t " id="t30" style="left:1424px;top:757px;transform:scaleX(0.8809);">30</div>
<div class="t " id="t31" style="left:1424px;top:789px;transform:scaleX(0.8989);">0</div>
<div class="d" style="left:1423px;top:365px;width:41px;height:11px;background:#000;"></div>
<div class="t w" id="t32" style="left:1427px;top:366px;transform:scaleX(0.9265);">0.97908</div>
<div class="d" style="left:1423px;top:423px;width:41px;height:11px;background:#000;"></div>
<div class="t w" id="t33" style="left:1427px;top:424px;transform:scaleX(0.9265);">0.97099</div>
<div class="d" style="left:1382px;top:804px;width:75px;height:11px;background:#000;"></div>
<div class="t w" id="t34" style="left:1386px;top:805px;transform:scaleX(0.9337);">2019.09.07 0:00</div>
<div class="t " id="t35" style="left:5px;top:805px;transform:scaleX(0.9583);">2 Aug 2018</div>
<div class="t " id="t36" style="left:69px;top:805px;transform:scaleX(0.9257);">21 Aug 2018</div>
<div class="t " id="t37" style="left:133px;top:805px;transform:scaleX(0.9478);">9 Sep 2018</div>
<div class="t " id="t38" style="left:197px;top:805px;transform:scaleX(0.9168);">27 Sep 2018</div>
<div class="t " id="t39" style="left:261px;top:805px;transform:scaleX(0.9544);">16 Oct 2018</div>
<div class="t " id="t40" style="left:325px;top:805px;transform:scaleX(0.9481);">4 Nov 2018</div>
<div class="t " id="t41" style="left:389px;top:805px;transform:scaleX(0.9168);">22 Nov 2018</div>
<div class="t " id="t42" style="left:453px;top:805px;transform:scaleX(0.9291);">11 Dec 2018</div>
<div class="t " id="t43" style="left:517px;top:805px;transform:scaleX(0.9168);">30 Dec 2018</div>
<div class="t " id="t44" style="left:581px;top:805px;transform:scaleX(0.9444);">17 Jan 2019</div>
<div class="t " id="t45" style="left:645px;top:805px;transform:scaleX(0.9583);">5 Feb 2019</div>
<div class="t " id="t46" style="left:709px;top:805px;transform:scaleX(0.9257);">24 Feb 2019</div>
<div class="t " id="t47" style="left:773px;top:805px;transform:scaleX(0.9260);">14 Mar 2019</div>
<div class="t " id="t48" style="left:837px;top:805px;transform:scaleX(1.0026);">2 Apr 2019</div>
<div class="t " id="t49" style="left:901px;top:805px;transform:scaleX(0.9641);">22 Apr 2019</div>
<div class="t " id="t50" style="left:965px;top:805px;transform:scaleX(0.8992);">10 May 2019</div>
<div class="t " id="t51" style="left:1029px;top:805px;transform:scaleX(0.8992);">29 May 2019</div>
<div class="t " id="t52" style="left:1093px;top:805px;transform:scaleX(0.9444);">17 Jun 2019</div>
<div class="d" style="left:0px;top:822px;width:1464px;height:1px;background:#e8e8e8;"></div>
<div class="d" style="left:0px;top:823px;width:1464px;height:1px;background:#000;"></div>
<div class="d" style="left:0px;top:824px;width:1464px;height:20px;background:#f0f0f0;"></div>
<div class="d" style="left:223px;top:823px;width:108px;height:19px;background:#fff;border-left:1px solid #000;border-right:1px solid #000;border-bottom:1px solid #000;box-sizing:border-box"></div>
<div class="t tab" id="t53" style="left:18.6px;top:827px;transform:scaleX(0.9569);">EURUSD-,Daily</div>
<div class="t tab" id="t54" style="left:125px;top:827px;transform:scaleX(0.9830);">AUDUSD-,Daily</div>
<div class="t tab" id="t55" style="left:235px;top:827px;transform:scaleX(0.9520);color:#000;">USDCHF-,Daily</div>
<div class="t tab" id="t56" style="left:342px;top:827px;transform:scaleX(0.9637);">USDCAD-,Daily</div>
<div class="t tab" id="t57" style="left:451px;top:827px;transform:scaleX(0.9876);">USDCNH-,Daily</div>
<div class="t tab" id="t58" style="left:562.6px;top:827px;transform:scaleX(0.9494);">EURCHF-,Weekly</div>
<div class="t tab" id="t59" style="left:682px;top:827px;transform:scaleX(0.9641);">XAUUSD-,H1</div>
<div class="d" style="left:115px;top:827px;width:1px;height:13px;background:#808080;"></div>
<div class="d" style="left:439px;top:827px;width:1px;height:13px;background:#808080;"></div>
<div class="d" style="left:551px;top:827px;width:1px;height:13px;background:#808080;"></div>
<div class="d" style="left:671px;top:827px;width:1px;height:13px;background:#808080;"></div>
<div class="d" style="left:768px;top:827px;width:1px;height:13px;background:#808080;"></div>
<div class="d" style="left:2px;top:824px;width:1px;height:17px;background:#808080;"></div>
<div class="d" style="left:1437px;top:829px;width:0;height:0;border-top:3px solid transparent;border-bottom:3px solid transparent;border-right:3px solid #a0a0a0"></div>
<div class="d" style="left:1456px;top:829px;width:0;height:0;border-top:3px solid transparent;border-bottom:3px solid transparent;border-left:3px solid #a0a0a0"></div>
</body></html>
